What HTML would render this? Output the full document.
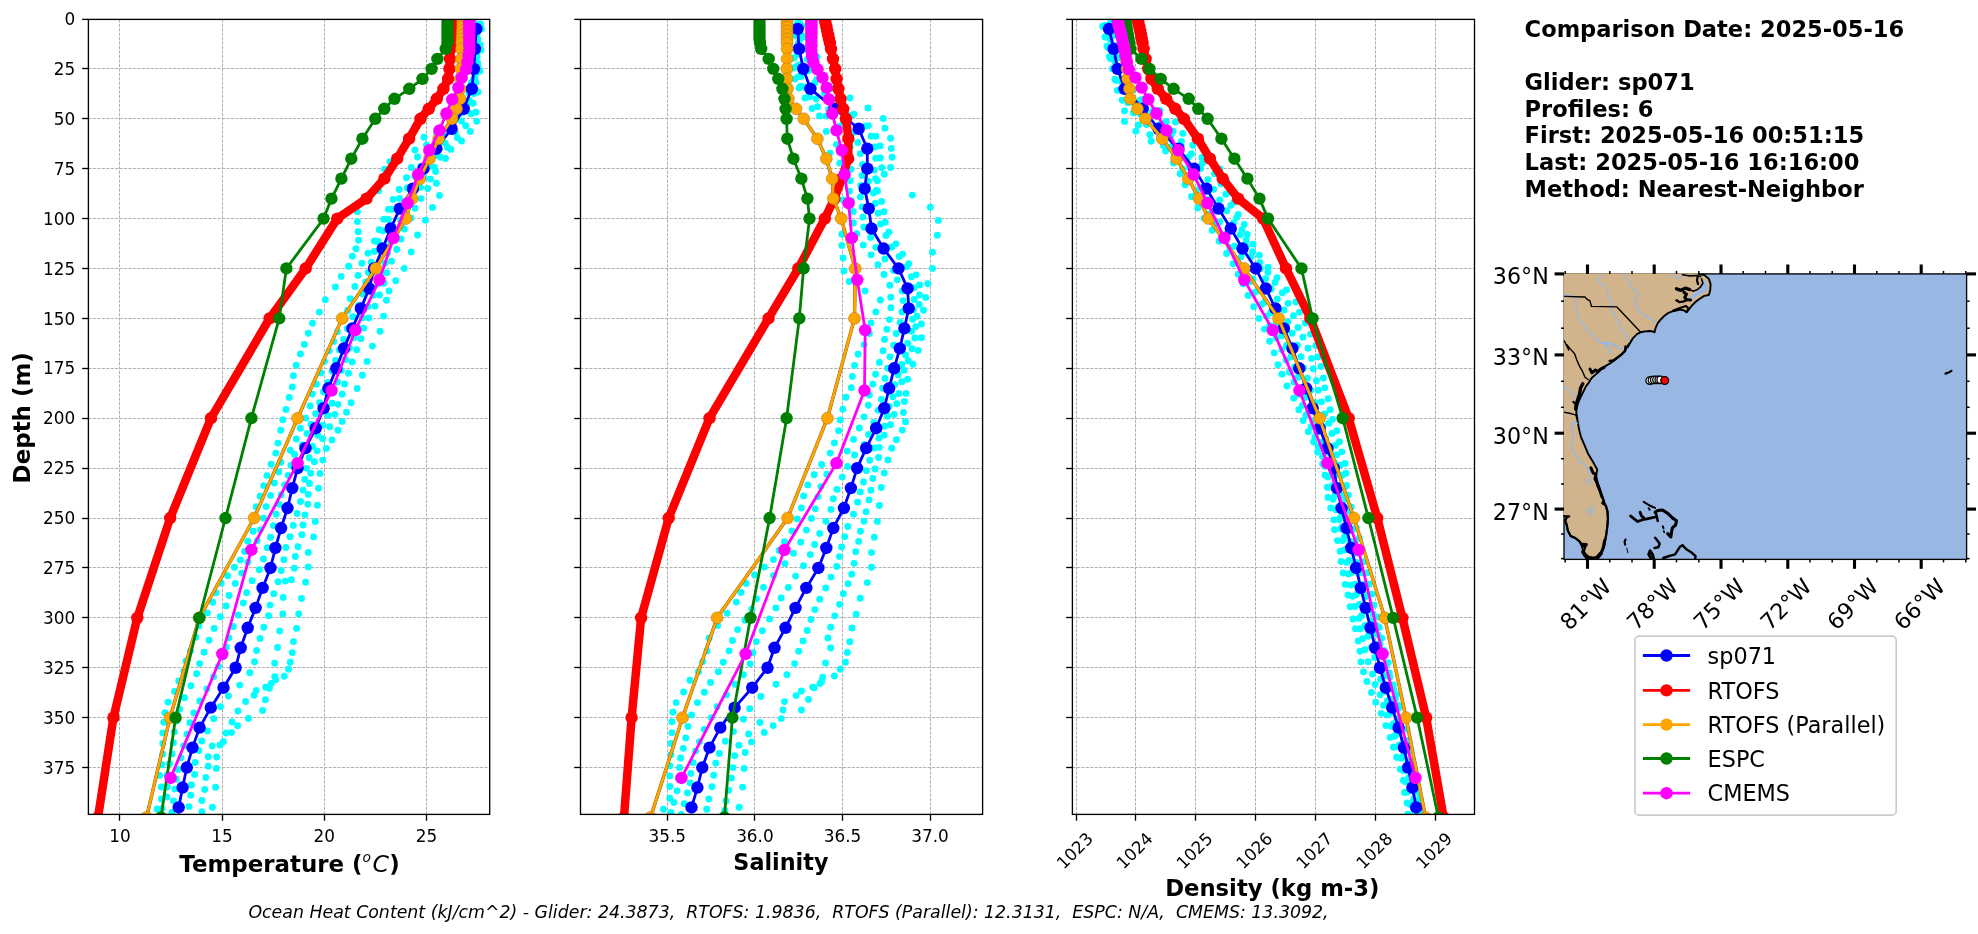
<!DOCTYPE html>
<html><head><meta charset="utf-8"><title>Glider / model comparison</title>
<style>html,body{margin:0;padding:0;background:#fff}svg{display:block;will-change:transform}text{font-family:"DejaVu Sans","Liberation Sans",sans-serif;fill:#000}</style>
</head><body>
<svg width="1978" height="934" viewBox="0 0 1978 934">
<rect x="0" y="0" width="1978" height="934" fill="#ffffff"/>
<defs>
<clipPath id="cp0"><rect x="88.4" y="19.4" width="401.3" height="795"/></clipPath>
<clipPath id="cp1"><rect x="580.5" y="19.4" width="402.1" height="795"/></clipPath>
<clipPath id="cp2"><rect x="1072.4" y="19.4" width="402.1" height="795"/></clipPath>
</defs>
<g id="panel0">
<g stroke="#b0b0b0" stroke-width="1" stroke-dasharray="3.1 1.35" fill="none">
<line x1="119.5" y1="19.4" x2="119.5" y2="814.4"/>
<line x1="222.5" y1="19.4" x2="222.5" y2="814.4"/>
<line x1="324.5" y1="19.4" x2="324.5" y2="814.4"/>
<line x1="426.5" y1="19.4" x2="426.5" y2="814.4"/>
<line x1="88.4" y1="68.5" x2="489.7" y2="68.5"/>
<line x1="88.4" y1="118.5" x2="489.7" y2="118.5"/>
<line x1="88.4" y1="168.5" x2="489.7" y2="168.5"/>
<line x1="88.4" y1="218.5" x2="489.7" y2="218.5"/>
<line x1="88.4" y1="268.5" x2="489.7" y2="268.5"/>
<line x1="88.4" y1="318.5" x2="489.7" y2="318.5"/>
<line x1="88.4" y1="368.5" x2="489.7" y2="368.5"/>
<line x1="88.4" y1="418.5" x2="489.7" y2="418.5"/>
<line x1="88.4" y1="468.5" x2="489.7" y2="468.5"/>
<line x1="88.4" y1="518.5" x2="489.7" y2="518.5"/>
<line x1="88.4" y1="567.5" x2="489.7" y2="567.5"/>
<line x1="88.4" y1="617.5" x2="489.7" y2="617.5"/>
<line x1="88.4" y1="667.5" x2="489.7" y2="667.5"/>
<line x1="88.4" y1="717.5" x2="489.7" y2="717.5"/>
<line x1="88.4" y1="767.5" x2="489.7" y2="767.5"/>
</g>
<g clip-path="url(#cp0)">
<g fill="#00ffff">
<circle cx="480.5" cy="24" r="3.45"/>
<circle cx="480" cy="45" r="3.45"/>
<circle cx="478" cy="66" r="3.45"/>
<circle cx="474" cy="86" r="3.45"/>
<circle cx="466" cy="106" r="3.45"/>
<circle cx="452" cy="122" r="3.45"/>
<circle cx="424" cy="137.3" r="3.45"/>
<circle cx="415" cy="150" r="3.45"/>
<circle cx="390" cy="161.6" r="3.45"/>
<circle cx="384.7" cy="169.2" r="3.45"/>
<circle cx="378.6" cy="190.8" r="3.45"/>
<circle cx="357.4" cy="211.8" r="3.45"/>
<circle cx="357.4" cy="221.6" r="3.45"/>
<circle cx="358.2" cy="231.8" r="3.45"/>
<circle cx="358.6" cy="240.3" r="3.45"/>
<circle cx="356" cy="248.8" r="3.45"/>
<circle cx="352.4" cy="256.3" r="3.45"/>
<circle cx="348.6" cy="266.2" r="3.45"/>
<circle cx="341.2" cy="276.4" r="3.45"/>
<circle cx="335.4" cy="287" r="3.45"/>
<circle cx="325.3" cy="299.8" r="3.45"/>
<circle cx="319.3" cy="312.1" r="3.45"/>
<circle cx="312.5" cy="323.2" r="3.45"/>
<circle cx="308.3" cy="333.3" r="3.45"/>
<circle cx="304.4" cy="344.4" r="3.45"/>
<circle cx="300.4" cy="353.9" r="3.45"/>
<circle cx="296.2" cy="365.2" r="3.45"/>
<circle cx="293.4" cy="375.8" r="3.45"/>
<circle cx="292.3" cy="386.9" r="3.45"/>
<circle cx="289.2" cy="397.4" r="3.45"/>
<circle cx="286" cy="409.5" r="3.45"/>
<circle cx="282.8" cy="419.7" r="3.45"/>
<circle cx="280.7" cy="430.3" r="3.45"/>
<circle cx="277.9" cy="443.1" r="3.45"/>
<circle cx="275.8" cy="453.1" r="3.45"/>
<circle cx="271.1" cy="464.3" r="3.45"/>
<circle cx="266.9" cy="475.6" r="3.45"/>
<circle cx="263.7" cy="485.6" r="3.45"/>
<circle cx="260.1" cy="496.2" r="3.45"/>
<circle cx="256.2" cy="506.8" r="3.45"/>
<circle cx="254.1" cy="519.5" r="3.45"/>
<circle cx="253.1" cy="531.2" r="3.45"/>
<circle cx="247.8" cy="541.2" r="3.45"/>
<circle cx="244.6" cy="551.4" r="3.45"/>
<circle cx="240.3" cy="559.9" r="3.45"/>
<circle cx="234.4" cy="567.3" r="3.45"/>
<circle cx="227.6" cy="575.8" r="3.45"/>
<circle cx="221.2" cy="583.2" r="3.45"/>
<circle cx="215.9" cy="592.7" r="3.45"/>
<circle cx="212.7" cy="602.3" r="3.45"/>
<circle cx="207.4" cy="612.9" r="3.45"/>
<circle cx="198.9" cy="625.7" r="3.45"/>
<circle cx="195.7" cy="637.3" r="3.45"/>
<circle cx="190.4" cy="651.1" r="3.45"/>
<circle cx="186" cy="661" r="3.45"/>
<circle cx="184" cy="671.3" r="3.45"/>
<circle cx="178.7" cy="680.9" r="3.45"/>
<circle cx="174.5" cy="691.5" r="3.45"/>
<circle cx="168.1" cy="702.1" r="3.45"/>
<circle cx="164.9" cy="712.7" r="3.45"/>
<circle cx="163.9" cy="722.3" r="3.45"/>
<circle cx="162.8" cy="732.9" r="3.45"/>
<circle cx="162.8" cy="743.5" r="3.45"/>
<circle cx="162.8" cy="754.1" r="3.45"/>
<circle cx="161.8" cy="764.7" r="3.45"/>
<circle cx="159.6" cy="775.4" r="3.45"/>
<circle cx="161.4" cy="787" r="3.45"/>
<circle cx="161.4" cy="799" r="3.45"/>
<circle cx="157.2" cy="809" r="3.45"/>
<circle cx="481.5" cy="29" r="3.45"/>
<circle cx="481" cy="50" r="3.45"/>
<circle cx="480" cy="71" r="3.45"/>
<circle cx="478" cy="92" r="3.45"/>
<circle cx="476" cy="112.2" r="3.45"/>
<circle cx="476.7" cy="121.3" r="3.45"/>
<circle cx="470.3" cy="131.5" r="3.45"/>
<circle cx="461.5" cy="141" r="3.45"/>
<circle cx="450.9" cy="149.4" r="3.45"/>
<circle cx="445.5" cy="158.5" r="3.45"/>
<circle cx="435.7" cy="171.5" r="3.45"/>
<circle cx="436.4" cy="183.3" r="3.45"/>
<circle cx="439.5" cy="195.5" r="3.45"/>
<circle cx="432.5" cy="207.4" r="3.45"/>
<circle cx="425.5" cy="220.2" r="3.45"/>
<circle cx="417.6" cy="235" r="3.45"/>
<circle cx="411.2" cy="252" r="3.45"/>
<circle cx="404.2" cy="268.4" r="3.45"/>
<circle cx="395.7" cy="280.7" r="3.45"/>
<circle cx="389" cy="291" r="3.45"/>
<circle cx="386.4" cy="300.2" r="3.45"/>
<circle cx="383.6" cy="316.1" r="3.45"/>
<circle cx="380" cy="331.2" r="3.45"/>
<circle cx="372.4" cy="346.1" r="3.45"/>
<circle cx="367.1" cy="361.4" r="3.45"/>
<circle cx="362.4" cy="375.2" r="3.45"/>
<circle cx="357.1" cy="388.5" r="3.45"/>
<circle cx="351.1" cy="402.7" r="3.45"/>
<circle cx="346.5" cy="412.3" r="3.45"/>
<circle cx="342.2" cy="421.4" r="3.45"/>
<circle cx="338" cy="430.3" r="3.45"/>
<circle cx="332" cy="439.9" r="3.45"/>
<circle cx="326.3" cy="448.4" r="3.45"/>
<circle cx="322.7" cy="460.1" r="3.45"/>
<circle cx="319.9" cy="473.4" r="3.45"/>
<circle cx="318.5" cy="488.3" r="3.45"/>
<circle cx="317.4" cy="505.3" r="3.45"/>
<circle cx="315.3" cy="521.6" r="3.45"/>
<circle cx="313.6" cy="536.9" r="3.45"/>
<circle cx="308.3" cy="552.4" r="3.45"/>
<circle cx="308.3" cy="566.9" r="3.45"/>
<circle cx="305.6" cy="582.3" r="3.45"/>
<circle cx="301.5" cy="598.5" r="3.45"/>
<circle cx="298.7" cy="614" r="3.45"/>
<circle cx="296.6" cy="628.4" r="3.45"/>
<circle cx="293.4" cy="641.6" r="3.45"/>
<circle cx="292.3" cy="652.6" r="3.45"/>
<circle cx="290.2" cy="662.2" r="3.45"/>
<circle cx="288.5" cy="669.2" r="3.45"/>
<circle cx="284.3" cy="676.2" r="3.45"/>
<circle cx="275.8" cy="679.8" r="3.45"/>
<circle cx="271.1" cy="683.4" r="3.45"/>
<circle cx="265.8" cy="687.2" r="3.45"/>
<circle cx="256.2" cy="690.4" r="3.45"/>
<circle cx="254.1" cy="695.3" r="3.45"/>
<circle cx="245.6" cy="701.5" r="3.45"/>
<circle cx="238" cy="711" r="3.45"/>
<circle cx="232" cy="722" r="3.45"/>
<circle cx="226" cy="733" r="3.45"/>
<circle cx="220" cy="745" r="3.45"/>
<circle cx="216.6" cy="757" r="3.45"/>
<circle cx="216.3" cy="768.4" r="3.45"/>
<circle cx="215.5" cy="787.3" r="3.45"/>
<circle cx="212.4" cy="807.2" r="3.45"/>
<circle cx="285.3" cy="581.1" r="3.45"/>
<circle cx="283.2" cy="597.4" r="3.45"/>
<circle cx="282.8" cy="614" r="3.45"/>
<circle cx="279.6" cy="631" r="3.45"/>
<circle cx="277.5" cy="647.5" r="3.45"/>
<circle cx="274.7" cy="663.2" r="3.45"/>
<circle cx="274.7" cy="676.6" r="3.45"/>
<circle cx="269.4" cy="688.3" r="3.45"/>
<circle cx="265.4" cy="699.8" r="3.45"/>
<circle cx="262.6" cy="710.4" r="3.45"/>
<circle cx="248.5" cy="718.4" r="3.45"/>
<circle cx="237.6" cy="725.8" r="3.45"/>
<circle cx="231.5" cy="732.6" r="3.45"/>
<circle cx="223.4" cy="741.8" r="3.45"/>
<circle cx="475.28" cy="23.81" r="3.45"/>
<circle cx="475.36" cy="34.56" r="3.45"/>
<circle cx="474.19" cy="46.25" r="3.45"/>
<circle cx="472.13" cy="57.75" r="3.45"/>
<circle cx="472.37" cy="69.32" r="3.45"/>
<circle cx="473.4" cy="80" r="3.45"/>
<circle cx="470.69" cy="91.78" r="3.45"/>
<circle cx="467.34" cy="102.76" r="3.45"/>
<circle cx="462.65" cy="112.38" r="3.45"/>
<circle cx="452.08" cy="123.13" r="3.45"/>
<circle cx="436.46" cy="132.65" r="3.45"/>
<circle cx="426.46" cy="144.83" r="3.45"/>
<circle cx="417.46" cy="157.05" r="3.45"/>
<circle cx="411.3" cy="167.44" r="3.45"/>
<circle cx="406.44" cy="177.74" r="3.45"/>
<circle cx="399.24" cy="189.43" r="3.45"/>
<circle cx="393.08" cy="199.42" r="3.45"/>
<circle cx="388.36" cy="209.34" r="3.45"/>
<circle cx="383.71" cy="219.28" r="3.45"/>
<circle cx="379.3" cy="229.71" r="3.45"/>
<circle cx="374.46" cy="240.96" r="3.45"/>
<circle cx="368" cy="253.23" r="3.45"/>
<circle cx="361.93" cy="263.25" r="3.45"/>
<circle cx="358" cy="275.49" r="3.45"/>
<circle cx="354.9" cy="286.54" r="3.45"/>
<circle cx="350.16" cy="298.62" r="3.45"/>
<circle cx="347.66" cy="310.45" r="3.45"/>
<circle cx="343.89" cy="320.31" r="3.45"/>
<circle cx="337.35" cy="331.64" r="3.45"/>
<circle cx="333.68" cy="341.39" r="3.45"/>
<circle cx="329.31" cy="350.79" r="3.45"/>
<circle cx="324.46" cy="361.36" r="3.45"/>
<circle cx="320.95" cy="373.06" r="3.45"/>
<circle cx="316.43" cy="384.14" r="3.45"/>
<circle cx="312.37" cy="394.09" r="3.45"/>
<circle cx="310.1" cy="406" r="3.45"/>
<circle cx="305.67" cy="418.12" r="3.45"/>
<circle cx="300.37" cy="428.21" r="3.45"/>
<circle cx="296.3" cy="438.93" r="3.45"/>
<circle cx="290.26" cy="450.23" r="3.45"/>
<circle cx="280.78" cy="462.31" r="3.45"/>
<circle cx="278.84" cy="472.07" r="3.45"/>
<circle cx="274.41" cy="483.11" r="3.45"/>
<circle cx="270.62" cy="495.4" r="3.45"/>
<circle cx="266.04" cy="506.6" r="3.45"/>
<circle cx="263.57" cy="518.13" r="3.45"/>
<circle cx="260.32" cy="529.84" r="3.45"/>
<circle cx="257.23" cy="540.74" r="3.45"/>
<circle cx="253.81" cy="550.99" r="3.45"/>
<circle cx="247.92" cy="562.14" r="3.45"/>
<circle cx="241.7" cy="573.1" r="3.45"/>
<circle cx="235.32" cy="583.51" r="3.45"/>
<circle cx="228.99" cy="595.45" r="3.45"/>
<circle cx="226.17" cy="605.92" r="3.45"/>
<circle cx="220.24" cy="616.75" r="3.45"/>
<circle cx="214.19" cy="628.42" r="3.45"/>
<circle cx="209.08" cy="640.24" r="3.45"/>
<circle cx="204.05" cy="652.29" r="3.45"/>
<circle cx="199.59" cy="663.62" r="3.45"/>
<circle cx="196.59" cy="673.76" r="3.45"/>
<circle cx="190.86" cy="685.68" r="3.45"/>
<circle cx="184.39" cy="697.78" r="3.45"/>
<circle cx="179.52" cy="709.31" r="3.45"/>
<circle cx="176.98" cy="720.98" r="3.45"/>
<circle cx="174.31" cy="731.91" r="3.45"/>
<circle cx="173.43" cy="742.77" r="3.45"/>
<circle cx="172.16" cy="753.89" r="3.45"/>
<circle cx="169.53" cy="763.72" r="3.45"/>
<circle cx="167.01" cy="775.12" r="3.45"/>
<circle cx="167.38" cy="787.09" r="3.45"/>
<circle cx="166.67" cy="796.96" r="3.45"/>
<circle cx="162.04" cy="808.6" r="3.45"/>
<circle cx="475.52" cy="26.42" r="3.45"/>
<circle cx="475.73" cy="36.39" r="3.45"/>
<circle cx="474.35" cy="48.66" r="3.45"/>
<circle cx="474.07" cy="60.81" r="3.45"/>
<circle cx="473.54" cy="71.59" r="3.45"/>
<circle cx="471.19" cy="82.96" r="3.45"/>
<circle cx="468.91" cy="92.99" r="3.45"/>
<circle cx="465.27" cy="103.03" r="3.45"/>
<circle cx="460" cy="113.28" r="3.45"/>
<circle cx="451.91" cy="124.74" r="3.45"/>
<circle cx="442.9" cy="134.75" r="3.45"/>
<circle cx="433.59" cy="147.05" r="3.45"/>
<circle cx="427.74" cy="156.64" r="3.45"/>
<circle cx="420.59" cy="166.6" r="3.45"/>
<circle cx="414.87" cy="176.25" r="3.45"/>
<circle cx="407.22" cy="187.94" r="3.45"/>
<circle cx="399.53" cy="198.42" r="3.45"/>
<circle cx="391.86" cy="209.21" r="3.45"/>
<circle cx="388.3" cy="219.57" r="3.45"/>
<circle cx="383.19" cy="230.86" r="3.45"/>
<circle cx="378.1" cy="241.45" r="3.45"/>
<circle cx="374.26" cy="251.46" r="3.45"/>
<circle cx="371.31" cy="262.13" r="3.45"/>
<circle cx="368.31" cy="272.42" r="3.45"/>
<circle cx="365.74" cy="282.14" r="3.45"/>
<circle cx="362.69" cy="293.99" r="3.45"/>
<circle cx="358.52" cy="305.41" r="3.45"/>
<circle cx="352.68" cy="316.78" r="3.45"/>
<circle cx="347.36" cy="328.81" r="3.45"/>
<circle cx="343.7" cy="339.37" r="3.45"/>
<circle cx="339.35" cy="349.89" r="3.45"/>
<circle cx="335.54" cy="360.54" r="3.45"/>
<circle cx="332.25" cy="371.13" r="3.45"/>
<circle cx="327.66" cy="382.52" r="3.45"/>
<circle cx="323.4" cy="391.92" r="3.45"/>
<circle cx="319.57" cy="402.69" r="3.45"/>
<circle cx="315.71" cy="413.68" r="3.45"/>
<circle cx="310.89" cy="424.09" r="3.45"/>
<circle cx="307.12" cy="433.54" r="3.45"/>
<circle cx="302.39" cy="445.03" r="3.45"/>
<circle cx="294.52" cy="454.44" r="3.45"/>
<circle cx="290.92" cy="465.52" r="3.45"/>
<circle cx="288.07" cy="475.36" r="3.45"/>
<circle cx="284.64" cy="484.85" r="3.45"/>
<circle cx="281.1" cy="494.77" r="3.45"/>
<circle cx="279.15" cy="504.35" r="3.45"/>
<circle cx="276.09" cy="514.18" r="3.45"/>
<circle cx="273.32" cy="525.62" r="3.45"/>
<circle cx="270.52" cy="537.18" r="3.45"/>
<circle cx="267.25" cy="547.65" r="3.45"/>
<circle cx="263.4" cy="558.98" r="3.45"/>
<circle cx="259.29" cy="569.79" r="3.45"/>
<circle cx="252.18" cy="580.67" r="3.45"/>
<circle cx="246.68" cy="592.67" r="3.45"/>
<circle cx="243.31" cy="602.99" r="3.45"/>
<circle cx="238.21" cy="614.97" r="3.45"/>
<circle cx="233.32" cy="626.43" r="3.45"/>
<circle cx="229.01" cy="637.85" r="3.45"/>
<circle cx="226.28" cy="647.26" r="3.45"/>
<circle cx="223.05" cy="656.89" r="3.45"/>
<circle cx="218.62" cy="666.37" r="3.45"/>
<circle cx="213.63" cy="676.79" r="3.45"/>
<circle cx="206.88" cy="689" r="3.45"/>
<circle cx="199.77" cy="701.01" r="3.45"/>
<circle cx="193.77" cy="712.9" r="3.45"/>
<circle cx="189.84" cy="722.64" r="3.45"/>
<circle cx="186.98" cy="734.13" r="3.45"/>
<circle cx="183.69" cy="745.84" r="3.45"/>
<circle cx="180.9" cy="757.64" r="3.45"/>
<circle cx="177.97" cy="769.4" r="3.45"/>
<circle cx="176.18" cy="779.2" r="3.45"/>
<circle cx="174.89" cy="789.12" r="3.45"/>
<circle cx="173.53" cy="800.87" r="3.45"/>
<circle cx="171.85" cy="812.47" r="3.45"/>
<circle cx="476.03" cy="23.83" r="3.45"/>
<circle cx="476.99" cy="35.06" r="3.45"/>
<circle cx="477.8" cy="44.95" r="3.45"/>
<circle cx="477.03" cy="56.46" r="3.45"/>
<circle cx="477.42" cy="67.67" r="3.45"/>
<circle cx="474.89" cy="78.2" r="3.45"/>
<circle cx="473.56" cy="89.43" r="3.45"/>
<circle cx="469.08" cy="100.51" r="3.45"/>
<circle cx="466.48" cy="110.02" r="3.45"/>
<circle cx="461.44" cy="120.99" r="3.45"/>
<circle cx="455.14" cy="132.23" r="3.45"/>
<circle cx="445.26" cy="143.17" r="3.45"/>
<circle cx="436.91" cy="155.18" r="3.45"/>
<circle cx="428.46" cy="166.77" r="3.45"/>
<circle cx="424.03" cy="177.28" r="3.45"/>
<circle cx="420.57" cy="187.34" r="3.45"/>
<circle cx="413.85" cy="197.11" r="3.45"/>
<circle cx="404.8" cy="208.92" r="3.45"/>
<circle cx="400.58" cy="220.37" r="3.45"/>
<circle cx="395.95" cy="231.57" r="3.45"/>
<circle cx="390.75" cy="242.28" r="3.45"/>
<circle cx="387.38" cy="253.16" r="3.45"/>
<circle cx="385.06" cy="263.21" r="3.45"/>
<circle cx="380.34" cy="274.18" r="3.45"/>
<circle cx="377.8" cy="284" r="3.45"/>
<circle cx="373.53" cy="295.24" r="3.45"/>
<circle cx="368.05" cy="306.51" r="3.45"/>
<circle cx="362.38" cy="317.9" r="3.45"/>
<circle cx="357.66" cy="328.02" r="3.45"/>
<circle cx="353.94" cy="337.68" r="3.45"/>
<circle cx="349.51" cy="348.06" r="3.45"/>
<circle cx="345.57" cy="359.5" r="3.45"/>
<circle cx="341.22" cy="370.41" r="3.45"/>
<circle cx="337.6" cy="382.03" r="3.45"/>
<circle cx="333.71" cy="392.7" r="3.45"/>
<circle cx="332.11" cy="403.28" r="3.45"/>
<circle cx="328.12" cy="415.38" r="3.45"/>
<circle cx="322.86" cy="425.26" r="3.45"/>
<circle cx="317.72" cy="435.27" r="3.45"/>
<circle cx="312.52" cy="446.41" r="3.45"/>
<circle cx="309.23" cy="457.69" r="3.45"/>
<circle cx="306.59" cy="468.36" r="3.45"/>
<circle cx="304.87" cy="479.42" r="3.45"/>
<circle cx="303.02" cy="490.12" r="3.45"/>
<circle cx="300.58" cy="501.5" r="3.45"/>
<circle cx="297.02" cy="513.55" r="3.45"/>
<circle cx="293.23" cy="525.4" r="3.45"/>
<circle cx="290.01" cy="536.7" r="3.45"/>
<circle cx="285.85" cy="547.49" r="3.45"/>
<circle cx="283.88" cy="559.71" r="3.45"/>
<circle cx="281.27" cy="570.43" r="3.45"/>
<circle cx="278.05" cy="581.69" r="3.45"/>
<circle cx="273.81" cy="593.67" r="3.45"/>
<circle cx="270.1" cy="605.1" r="3.45"/>
<circle cx="268.54" cy="615.65" r="3.45"/>
<circle cx="263.78" cy="627.26" r="3.45"/>
<circle cx="260.11" cy="638.44" r="3.45"/>
<circle cx="256.56" cy="650.56" r="3.45"/>
<circle cx="254.5" cy="661.81" r="3.45"/>
<circle cx="249.8" cy="672.79" r="3.45"/>
<circle cx="239.72" cy="685.09" r="3.45"/>
<circle cx="228.42" cy="696.05" r="3.45"/>
<circle cx="220.46" cy="706.63" r="3.45"/>
<circle cx="213.74" cy="718.82" r="3.45"/>
<circle cx="207.43" cy="731.03" r="3.45"/>
<circle cx="201.8" cy="740.93" r="3.45"/>
<circle cx="198.65" cy="750.53" r="3.45"/>
<circle cx="195.18" cy="762.48" r="3.45"/>
<circle cx="194.63" cy="774.5" r="3.45"/>
<circle cx="191.44" cy="785.04" r="3.45"/>
<circle cx="190.77" cy="795.18" r="3.45"/>
<circle cx="189" cy="806.62" r="3.45"/>
<circle cx="478.3" cy="28.81" r="3.45"/>
<circle cx="477.92" cy="39.56" r="3.45"/>
<circle cx="477.62" cy="51.09" r="3.45"/>
<circle cx="477.55" cy="62.67" r="3.45"/>
<circle cx="476.71" cy="72.7" r="3.45"/>
<circle cx="475.97" cy="82.32" r="3.45"/>
<circle cx="473.82" cy="93.5" r="3.45"/>
<circle cx="473.08" cy="103.25" r="3.45"/>
<circle cx="471.08" cy="113.78" r="3.45"/>
<circle cx="465.74" cy="125.82" r="3.45"/>
<circle cx="457.47" cy="137.82" r="3.45"/>
<circle cx="447.55" cy="147.56" r="3.45"/>
<circle cx="440.47" cy="157.19" r="3.45"/>
<circle cx="434.2" cy="167.23" r="3.45"/>
<circle cx="430.47" cy="179.1" r="3.45"/>
<circle cx="427.74" cy="188.55" r="3.45"/>
<circle cx="421.07" cy="198.61" r="3.45"/>
<circle cx="415.02" cy="208.31" r="3.45"/>
<circle cx="411.04" cy="218.08" r="3.45"/>
<circle cx="404.39" cy="229.03" r="3.45"/>
<circle cx="401.09" cy="238.96" r="3.45"/>
<circle cx="396.73" cy="249.57" r="3.45"/>
<circle cx="391.62" cy="261.15" r="3.45"/>
<circle cx="386.84" cy="272.7" r="3.45"/>
<circle cx="384.06" cy="283.32" r="3.45"/>
<circle cx="379.39" cy="295.06" r="3.45"/>
<circle cx="375.05" cy="306.15" r="3.45"/>
<circle cx="368.76" cy="318.01" r="3.45"/>
<circle cx="363.8" cy="328.14" r="3.45"/>
<circle cx="360.93" cy="338.63" r="3.45"/>
<circle cx="356.58" cy="349.75" r="3.45"/>
<circle cx="352.06" cy="361.96" r="3.45"/>
<circle cx="348.5" cy="373.2" r="3.45"/>
<circle cx="344.65" cy="384" r="3.45"/>
<circle cx="342.15" cy="394.14" r="3.45"/>
<circle cx="338.1" cy="404.36" r="3.45"/>
<circle cx="334.84" cy="414.39" r="3.45"/>
<circle cx="329.65" cy="426.73" r="3.45"/>
<circle cx="322.65" cy="438.76" r="3.45"/>
<circle cx="317.13" cy="450.83" r="3.45"/>
<circle cx="314.39" cy="461.79" r="3.45"/>
<circle cx="310.77" cy="473.3" r="3.45"/>
<circle cx="309.47" cy="483.57" r="3.45"/>
<circle cx="308.27" cy="494.39" r="3.45"/>
<circle cx="307.88" cy="504.21" r="3.45"/>
<circle cx="305.01" cy="514.85" r="3.45"/>
<circle cx="303.08" cy="524.99" r="3.45"/>
<circle cx="301.88" cy="534.67" r="3.45"/>
<circle cx="297.95" cy="546.81" r="3.45"/>
<circle cx="295.34" cy="556.48" r="3.45"/>
<circle cx="294.36" cy="568.3" r="3.45"/>
<circle cx="291.34" cy="579.77" r="3.45"/>
<circle cx="212.29" cy="746" r="3.45"/>
<circle cx="208.16" cy="756.71" r="3.45"/>
<circle cx="208.21" cy="766.23" r="3.45"/>
<circle cx="205.87" cy="777.55" r="3.45"/>
<circle cx="204.69" cy="789.55" r="3.45"/>
<circle cx="201.82" cy="800.56" r="3.45"/>
<circle cx="201.98" cy="811.63" r="3.45"/>
</g>
<polyline points="476.3,28.93 474.9,48.89 473.9,68.86 471.8,88.82 463.7,108.78 451.6,128.75 436.4,148.71 423.5,168.67 412.9,188.64 399.8,208.6 390.7,228.56 382.6,248.52 374.1,268.49 369.2,288.45 360.9,308.41 352.4,328.38 344,348.34 336.3,368.3 328.4,388.27 323.6,408.23 315.7,428.19 305.5,448.15 297.6,468.12 292.3,488.08 287.5,508.04 281.1,528.01 275.4,547.97 270.5,567.93 262.6,587.9 255.6,607.86 247.7,627.82 240.7,647.78 235.6,667.75 223.5,687.71 210.8,707.67 199.6,727.64 192.5,747.6 186.8,767.56 182.6,787.53 178.7,807.49" fill="none" stroke="#0000ff" stroke-width="2.8" stroke-linejoin="round" stroke-linecap="square"/>
<g fill="#0000ff">
<circle cx="476.3" cy="28.93" r="6.2"/>
<circle cx="474.9" cy="48.89" r="6.2"/>
<circle cx="473.9" cy="68.86" r="6.2"/>
<circle cx="471.8" cy="88.82" r="6.2"/>
<circle cx="463.7" cy="108.78" r="6.2"/>
<circle cx="451.6" cy="128.75" r="6.2"/>
<circle cx="436.4" cy="148.71" r="6.2"/>
<circle cx="423.5" cy="168.67" r="6.2"/>
<circle cx="412.9" cy="188.64" r="6.2"/>
<circle cx="399.8" cy="208.6" r="6.2"/>
<circle cx="390.7" cy="228.56" r="6.2"/>
<circle cx="382.6" cy="248.52" r="6.2"/>
<circle cx="374.1" cy="268.49" r="6.2"/>
<circle cx="369.2" cy="288.45" r="6.2"/>
<circle cx="360.9" cy="308.41" r="6.2"/>
<circle cx="352.4" cy="328.38" r="6.2"/>
<circle cx="344" cy="348.34" r="6.2"/>
<circle cx="336.3" cy="368.3" r="6.2"/>
<circle cx="328.4" cy="388.27" r="6.2"/>
<circle cx="323.6" cy="408.23" r="6.2"/>
<circle cx="315.7" cy="428.19" r="6.2"/>
<circle cx="305.5" cy="448.15" r="6.2"/>
<circle cx="297.6" cy="468.12" r="6.2"/>
<circle cx="292.3" cy="488.08" r="6.2"/>
<circle cx="287.5" cy="508.04" r="6.2"/>
<circle cx="281.1" cy="528.01" r="6.2"/>
<circle cx="275.4" cy="547.97" r="6.2"/>
<circle cx="270.5" cy="567.93" r="6.2"/>
<circle cx="262.6" cy="587.9" r="6.2"/>
<circle cx="255.6" cy="607.86" r="6.2"/>
<circle cx="247.7" cy="627.82" r="6.2"/>
<circle cx="240.7" cy="647.78" r="6.2"/>
<circle cx="235.6" cy="667.75" r="6.2"/>
<circle cx="223.5" cy="687.71" r="6.2"/>
<circle cx="210.8" cy="707.67" r="6.2"/>
<circle cx="199.6" cy="727.64" r="6.2"/>
<circle cx="192.5" cy="747.6" r="6.2"/>
<circle cx="186.8" cy="767.56" r="6.2"/>
<circle cx="182.6" cy="787.53" r="6.2"/>
<circle cx="178.7" cy="807.49" r="6.2"/>
</g>
<polyline points="451.8,18.95 451.7,22.94 451.6,26.94 451.4,30.93 451.2,34.92 451,38.91 450.8,42.91 450.5,48.89 450,58.88 449.4,68.86 448.1,78.84 443.4,88.82 436.8,98.8 428.8,108.78 420.5,118.77 409.1,138.73 397.2,158.69 384.4,178.65 366.5,198.62 337.3,218.58 305.7,268.49 269.6,318.39 211,418.21 170.2,518.02 137.3,617.84 113.4,717.66 98,817.47" fill="none" stroke="#ff0000" stroke-width="8.5" stroke-linejoin="round" stroke-linecap="square"/>
<g fill="#ff0000">
<circle cx="451.8" cy="18.95" r="6.2"/>
<circle cx="451.7" cy="22.94" r="6.2"/>
<circle cx="451.6" cy="26.94" r="6.2"/>
<circle cx="451.4" cy="30.93" r="6.2"/>
<circle cx="451.2" cy="34.92" r="6.2"/>
<circle cx="451" cy="38.91" r="6.2"/>
<circle cx="450.8" cy="42.91" r="6.2"/>
<circle cx="450.5" cy="48.89" r="6.2"/>
<circle cx="450" cy="58.88" r="6.2"/>
<circle cx="449.4" cy="68.86" r="6.2"/>
<circle cx="448.1" cy="78.84" r="6.2"/>
<circle cx="443.4" cy="88.82" r="6.2"/>
<circle cx="436.8" cy="98.8" r="6.2"/>
<circle cx="428.8" cy="108.78" r="6.2"/>
<circle cx="420.5" cy="118.77" r="6.2"/>
<circle cx="409.1" cy="138.73" r="6.2"/>
<circle cx="397.2" cy="158.69" r="6.2"/>
<circle cx="384.4" cy="178.65" r="6.2"/>
<circle cx="366.5" cy="198.62" r="6.2"/>
<circle cx="337.3" cy="218.58" r="6.2"/>
<circle cx="305.7" cy="268.49" r="6.2"/>
<circle cx="269.6" cy="318.39" r="6.2"/>
<circle cx="211" cy="418.21" r="6.2"/>
<circle cx="170.2" cy="518.02" r="6.2"/>
<circle cx="137.3" cy="617.84" r="6.2"/>
<circle cx="113.4" cy="717.66" r="6.2"/>
<circle cx="98" cy="817.47" r="6.2"/>
</g>
<polyline points="462.8,18.95 462.7,22.94 462.6,26.94 462.4,30.93 462.2,34.92 462,38.91 461.8,42.91 461.5,48.89 461.2,58.88 460.9,68.86 460.4,78.84 460,88.82 460,98.8 456.6,108.78 452,118.77 438.7,138.73 429.6,158.69 419.7,178.65 412.1,198.62 406,218.58 375.8,268.49 342.2,318.39 297.6,418.21 254.1,518.02 199.3,617.84 170,717.66 146.5,817.47" fill="none" stroke="#80561a" stroke-width="3.45" stroke-linejoin="round" stroke-linecap="square"/>
<polyline points="462.8,18.95 462.7,22.94 462.6,26.94 462.4,30.93 462.2,34.92 462,38.91 461.8,42.91 461.5,48.89 461.2,58.88 460.9,68.86 460.4,78.84 460,88.82 460,98.8 456.6,108.78 452,118.77 438.7,138.73 429.6,158.69 419.7,178.65 412.1,198.62 406,218.58 375.8,268.49 342.2,318.39 297.6,418.21 254.1,518.02 199.3,617.84 170,717.66 146.5,817.47" fill="none" stroke="#ffa500" stroke-width="2.7" stroke-linejoin="round" stroke-linecap="square"/>
<g fill="#ffa500" stroke="#a87420" stroke-width="0.5">
<circle cx="462.8" cy="18.95" r="6"/>
<circle cx="462.7" cy="22.94" r="6"/>
<circle cx="462.6" cy="26.94" r="6"/>
<circle cx="462.4" cy="30.93" r="6"/>
<circle cx="462.2" cy="34.92" r="6"/>
<circle cx="462" cy="38.91" r="6"/>
<circle cx="461.8" cy="42.91" r="6"/>
<circle cx="461.5" cy="48.89" r="6"/>
<circle cx="461.2" cy="58.88" r="6"/>
<circle cx="460.9" cy="68.86" r="6"/>
<circle cx="460.4" cy="78.84" r="6"/>
<circle cx="460" cy="88.82" r="6"/>
<circle cx="460" cy="98.8" r="6"/>
<circle cx="456.6" cy="108.78" r="6"/>
<circle cx="452" cy="118.77" r="6"/>
<circle cx="438.7" cy="138.73" r="6"/>
<circle cx="429.6" cy="158.69" r="6"/>
<circle cx="419.7" cy="178.65" r="6"/>
<circle cx="412.1" cy="198.62" r="6"/>
<circle cx="406" cy="218.58" r="6"/>
<circle cx="375.8" cy="268.49" r="6"/>
<circle cx="342.2" cy="318.39" r="6"/>
<circle cx="297.6" cy="418.21" r="6"/>
<circle cx="254.1" cy="518.02" r="6"/>
<circle cx="199.3" cy="617.84" r="6"/>
<circle cx="170" cy="717.66" r="6"/>
<circle cx="146.5" cy="817.47" r="6"/>
</g>
<polyline points="447.5,18.95 447.5,22.94 447.5,26.94 447.5,30.93 447.5,34.92 447.5,38.91 447.5,42.91 445.7,48.89 437.4,58.88 431.6,68.86 422.5,78.84 409.3,88.82 394.5,98.8 384.3,108.78 375.3,118.77 362.4,138.73 351.3,158.69 341.4,178.65 331.5,198.62 323.6,218.58 286.4,268.49 279.2,318.39 251.4,418.21 225.5,518.02 199.3,617.84 175.6,717.66 161,817.47" fill="none" stroke="#008000" stroke-width="2.8" stroke-linejoin="round" stroke-linecap="square"/>
<g fill="#008000">
<circle cx="447.5" cy="18.95" r="6.2"/>
<circle cx="447.5" cy="22.94" r="6.2"/>
<circle cx="447.5" cy="26.94" r="6.2"/>
<circle cx="447.5" cy="30.93" r="6.2"/>
<circle cx="447.5" cy="34.92" r="6.2"/>
<circle cx="447.5" cy="38.91" r="6.2"/>
<circle cx="447.5" cy="42.91" r="6.2"/>
<circle cx="445.7" cy="48.89" r="6.2"/>
<circle cx="437.4" cy="58.88" r="6.2"/>
<circle cx="431.6" cy="68.86" r="6.2"/>
<circle cx="422.5" cy="78.84" r="6.2"/>
<circle cx="409.3" cy="88.82" r="6.2"/>
<circle cx="394.5" cy="98.8" r="6.2"/>
<circle cx="384.3" cy="108.78" r="6.2"/>
<circle cx="375.3" cy="118.77" r="6.2"/>
<circle cx="362.4" cy="138.73" r="6.2"/>
<circle cx="351.3" cy="158.69" r="6.2"/>
<circle cx="341.4" cy="178.65" r="6.2"/>
<circle cx="331.5" cy="198.62" r="6.2"/>
<circle cx="323.6" cy="218.58" r="6.2"/>
<circle cx="286.4" cy="268.49" r="6.2"/>
<circle cx="279.2" cy="318.39" r="6.2"/>
<circle cx="251.4" cy="418.21" r="6.2"/>
<circle cx="225.5" cy="518.02" r="6.2"/>
<circle cx="199.3" cy="617.84" r="6.2"/>
<circle cx="175.6" cy="717.66" r="6.2"/>
<circle cx="161" cy="817.47" r="6.2"/>
</g>
<polyline points="469.3,19.93 469.3,22.02 469.3,24.24 469.3,26.58 469.3,29.09 469.3,31.81 469.3,34.78 469.3,38.05 469.3,41.71 469.3,45.84 469.3,50.51 468.5,55.88 467.5,62.07 466.1,69.26 461.7,77.64 458.3,87.62 452.2,99.4 446.4,113.57 439.5,130.34 429.3,150.31 418.2,174.46 407.6,203.21 393.5,237.94 379.4,279.87 355.4,330.17 331.6,390.46 297.6,463.13 251.4,549.97 222.3,653.97 170.6,777.94" fill="none" stroke="#ff00ff" stroke-width="2.8" stroke-linejoin="round" stroke-linecap="square"/>
<g fill="#ff00ff">
<circle cx="469.3" cy="19.93" r="6.2"/>
<circle cx="469.3" cy="22.02" r="6.2"/>
<circle cx="469.3" cy="24.24" r="6.2"/>
<circle cx="469.3" cy="26.58" r="6.2"/>
<circle cx="469.3" cy="29.09" r="6.2"/>
<circle cx="469.3" cy="31.81" r="6.2"/>
<circle cx="469.3" cy="34.78" r="6.2"/>
<circle cx="469.3" cy="38.05" r="6.2"/>
<circle cx="469.3" cy="41.71" r="6.2"/>
<circle cx="469.3" cy="45.84" r="6.2"/>
<circle cx="469.3" cy="50.51" r="6.2"/>
<circle cx="468.5" cy="55.88" r="6.2"/>
<circle cx="467.5" cy="62.07" r="6.2"/>
<circle cx="466.1" cy="69.26" r="6.2"/>
<circle cx="461.7" cy="77.64" r="6.2"/>
<circle cx="458.3" cy="87.62" r="6.2"/>
<circle cx="452.2" cy="99.4" r="6.2"/>
<circle cx="446.4" cy="113.57" r="6.2"/>
<circle cx="439.5" cy="130.34" r="6.2"/>
<circle cx="429.3" cy="150.31" r="6.2"/>
<circle cx="418.2" cy="174.46" r="6.2"/>
<circle cx="407.6" cy="203.21" r="6.2"/>
<circle cx="393.5" cy="237.94" r="6.2"/>
<circle cx="379.4" cy="279.87" r="6.2"/>
<circle cx="355.4" cy="330.17" r="6.2"/>
<circle cx="331.6" cy="390.46" r="6.2"/>
<circle cx="297.6" cy="463.13" r="6.2"/>
<circle cx="251.4" cy="549.97" r="6.2"/>
<circle cx="222.3" cy="653.97" r="6.2"/>
<circle cx="170.6" cy="777.94" r="6.2"/>
</g>
</g>
<rect x="88.4" y="19.4" width="401.3" height="795" fill="none" stroke="#000" stroke-width="1.33"/>
<g stroke="#000" stroke-width="1.33">
<line x1="119.5" y1="814.4" x2="119.5" y2="820.7"/>
<line x1="222.5" y1="814.4" x2="222.5" y2="820.7"/>
<line x1="324.5" y1="814.4" x2="324.5" y2="820.7"/>
<line x1="426.5" y1="814.4" x2="426.5" y2="820.7"/>
<line x1="82.1" y1="19.4" x2="88.4" y2="19.4"/>
<line x1="82.1" y1="68.5" x2="88.4" y2="68.5"/>
<line x1="82.1" y1="118.5" x2="88.4" y2="118.5"/>
<line x1="82.1" y1="168.5" x2="88.4" y2="168.5"/>
<line x1="82.1" y1="218.5" x2="88.4" y2="218.5"/>
<line x1="82.1" y1="268.5" x2="88.4" y2="268.5"/>
<line x1="82.1" y1="318.5" x2="88.4" y2="318.5"/>
<line x1="82.1" y1="368.5" x2="88.4" y2="368.5"/>
<line x1="82.1" y1="418.5" x2="88.4" y2="418.5"/>
<line x1="82.1" y1="468.5" x2="88.4" y2="468.5"/>
<line x1="82.1" y1="518.5" x2="88.4" y2="518.5"/>
<line x1="82.1" y1="567.5" x2="88.4" y2="567.5"/>
<line x1="82.1" y1="617.5" x2="88.4" y2="617.5"/>
<line x1="82.1" y1="667.5" x2="88.4" y2="667.5"/>
<line x1="82.1" y1="717.5" x2="88.4" y2="717.5"/>
<line x1="82.1" y1="767.5" x2="88.4" y2="767.5"/>
</g>
<g font-size="16.88" text-anchor="middle">
<text x="119.9" y="841.6">10</text>
<text x="222.1" y="841.6">15</text>
<text x="324.3" y="841.6">20</text>
<text x="426.5" y="841.6">25</text>
</g>
<g font-size="16.88" text-anchor="end">
<text x="75.3" y="25.05">0</text>
<text x="75.3" y="74.96">25</text>
<text x="75.3" y="124.86">50</text>
<text x="75.3" y="174.77">75</text>
<text x="75.3" y="224.68">100</text>
<text x="75.3" y="274.59">125</text>
<text x="75.3" y="324.5">150</text>
<text x="75.3" y="374.4">175</text>
<text x="75.3" y="424.31">200</text>
<text x="75.3" y="474.22">225</text>
<text x="75.3" y="524.12">250</text>
<text x="75.3" y="574.03">275</text>
<text x="75.3" y="623.94">300</text>
<text x="75.3" y="673.85">325</text>
<text x="75.3" y="723.76">350</text>
<text x="75.3" y="773.66">375</text>
</g>
</g>
<g id="panel1">
<g stroke="#b0b0b0" stroke-width="1" stroke-dasharray="3.1 1.35" fill="none">
<line x1="667.5" y1="19.4" x2="667.5" y2="814.4"/>
<line x1="754.5" y1="19.4" x2="754.5" y2="814.4"/>
<line x1="842.5" y1="19.4" x2="842.5" y2="814.4"/>
<line x1="930.5" y1="19.4" x2="930.5" y2="814.4"/>
<line x1="580.5" y1="68.5" x2="982.6" y2="68.5"/>
<line x1="580.5" y1="118.5" x2="982.6" y2="118.5"/>
<line x1="580.5" y1="168.5" x2="982.6" y2="168.5"/>
<line x1="580.5" y1="218.5" x2="982.6" y2="218.5"/>
<line x1="580.5" y1="268.5" x2="982.6" y2="268.5"/>
<line x1="580.5" y1="318.5" x2="982.6" y2="318.5"/>
<line x1="580.5" y1="368.5" x2="982.6" y2="368.5"/>
<line x1="580.5" y1="418.5" x2="982.6" y2="418.5"/>
<line x1="580.5" y1="468.5" x2="982.6" y2="468.5"/>
<line x1="580.5" y1="518.5" x2="982.6" y2="518.5"/>
<line x1="580.5" y1="567.5" x2="982.6" y2="567.5"/>
<line x1="580.5" y1="617.5" x2="982.6" y2="617.5"/>
<line x1="580.5" y1="667.5" x2="982.6" y2="667.5"/>
<line x1="580.5" y1="717.5" x2="982.6" y2="717.5"/>
<line x1="580.5" y1="767.5" x2="982.6" y2="767.5"/>
</g>
<g clip-path="url(#cp1)">
<g fill="#00ffff">
<circle cx="797" cy="24" r="3.45"/>
<circle cx="796" cy="36" r="3.45"/>
<circle cx="796.5" cy="47" r="3.45"/>
<circle cx="794" cy="58" r="3.45"/>
<circle cx="793.5" cy="68" r="3.45"/>
<circle cx="795" cy="79" r="3.45"/>
<circle cx="799" cy="88" r="3.45"/>
<circle cx="805" cy="98" r="3.45"/>
<circle cx="812.1" cy="108.5" r="3.45"/>
<circle cx="819.5" cy="115.9" r="3.45"/>
<circle cx="826.3" cy="131.4" r="3.45"/>
<circle cx="836.5" cy="144.6" r="3.45"/>
<circle cx="830.1" cy="153.1" r="3.45"/>
<circle cx="839.7" cy="163.1" r="3.45"/>
<circle cx="842" cy="180" r="3.45"/>
<circle cx="843" cy="200" r="3.45"/>
<circle cx="842" cy="218" r="3.45"/>
<circle cx="841.8" cy="234.2" r="3.45"/>
<circle cx="841.8" cy="245.4" r="3.45"/>
<circle cx="843" cy="258" r="3.45"/>
<circle cx="843.9" cy="270.9" r="3.45"/>
<circle cx="849.2" cy="281.5" r="3.45"/>
<circle cx="865" cy="291" r="3.45"/>
<circle cx="880.4" cy="300" r="3.45"/>
<circle cx="875.8" cy="311.9" r="3.45"/>
<circle cx="871.1" cy="322.9" r="3.45"/>
<circle cx="869.4" cy="333.5" r="3.45"/>
<circle cx="864.1" cy="344.6" r="3.45"/>
<circle cx="858.1" cy="354.3" r="3.45"/>
<circle cx="854.5" cy="365.4" r="3.45"/>
<circle cx="852.4" cy="376.4" r="3.45"/>
<circle cx="851.3" cy="387.7" r="3.45"/>
<circle cx="846" cy="397.2" r="3.45"/>
<circle cx="842.8" cy="409.3" r="3.45"/>
<circle cx="840.3" cy="420" r="3.45"/>
<circle cx="838.6" cy="430.8" r="3.45"/>
<circle cx="834.4" cy="442.9" r="3.45"/>
<circle cx="830.1" cy="453.1" r="3.45"/>
<circle cx="821.6" cy="464.5" r="3.45"/>
<circle cx="814.2" cy="474.7" r="3.45"/>
<circle cx="807.8" cy="484.9" r="3.45"/>
<circle cx="803.6" cy="495.9" r="3.45"/>
<circle cx="801.4" cy="508" r="3.45"/>
<circle cx="797.2" cy="518.9" r="3.45"/>
<circle cx="791.9" cy="531" r="3.45"/>
<circle cx="784.5" cy="541.6" r="3.45"/>
<circle cx="779" cy="550.5" r="3.45"/>
<circle cx="773.4" cy="559.6" r="3.45"/>
<circle cx="764.3" cy="567.1" r="3.45"/>
<circle cx="754.7" cy="574.9" r="3.45"/>
<circle cx="746.2" cy="583.4" r="3.45"/>
<circle cx="740.9" cy="592.5" r="3.45"/>
<circle cx="736.3" cy="602.1" r="3.45"/>
<circle cx="727.1" cy="613.3" r="3.45"/>
<circle cx="717.6" cy="625.5" r="3.45"/>
<circle cx="709.1" cy="638.2" r="3.45"/>
<circle cx="707" cy="650.9" r="3.45"/>
<circle cx="702.7" cy="661.6" r="3.45"/>
<circle cx="698.5" cy="671.7" r="3.45"/>
<circle cx="690" cy="680.3" r="3.45"/>
<circle cx="683.6" cy="692" r="3.45"/>
<circle cx="676.2" cy="702.6" r="3.45"/>
<circle cx="673" cy="712.2" r="3.45"/>
<circle cx="671.9" cy="721.8" r="3.45"/>
<circle cx="671.9" cy="732.8" r="3.45"/>
<circle cx="670.9" cy="743.4" r="3.45"/>
<circle cx="670.9" cy="754.7" r="3.45"/>
<circle cx="669.8" cy="765.7" r="3.45"/>
<circle cx="669.8" cy="775.9" r="3.45"/>
<circle cx="669.8" cy="786.5" r="3.45"/>
<circle cx="669.8" cy="798.2" r="3.45"/>
<circle cx="663.4" cy="809.2" r="3.45"/>
<circle cx="802" cy="26" r="3.45"/>
<circle cx="806" cy="37" r="3.45"/>
<circle cx="813" cy="47" r="3.45"/>
<circle cx="817" cy="57" r="3.45"/>
<circle cx="816" cy="67" r="3.45"/>
<circle cx="822" cy="78" r="3.45"/>
<circle cx="832" cy="88" r="3.45"/>
<circle cx="850" cy="98" r="3.45"/>
<circle cx="868" cy="108" r="3.45"/>
<circle cx="883.2" cy="118.5" r="3.45"/>
<circle cx="884.9" cy="128.2" r="3.45"/>
<circle cx="890.6" cy="138.2" r="3.45"/>
<circle cx="891.3" cy="148.4" r="3.45"/>
<circle cx="892.1" cy="157.3" r="3.45"/>
<circle cx="890.6" cy="167.5" r="3.45"/>
<circle cx="884.3" cy="174.3" r="3.45"/>
<circle cx="877.3" cy="180.7" r="3.45"/>
<circle cx="876.4" cy="190.2" r="3.45"/>
<circle cx="912.3" cy="195.1" r="3.45"/>
<circle cx="930.3" cy="207.2" r="3.45"/>
<circle cx="938.4" cy="220.4" r="3.45"/>
<circle cx="937.3" cy="235.3" r="3.45"/>
<circle cx="932.5" cy="252.2" r="3.45"/>
<circle cx="932.5" cy="268.4" r="3.45"/>
<circle cx="927.8" cy="283.7" r="3.45"/>
<circle cx="925.7" cy="297.4" r="3.45"/>
<circle cx="923.5" cy="310.2" r="3.45"/>
<circle cx="921.4" cy="324" r="3.45"/>
<circle cx="921.4" cy="337.8" r="3.45"/>
<circle cx="918.2" cy="350.5" r="3.45"/>
<circle cx="912.9" cy="364.3" r="3.45"/>
<circle cx="907.6" cy="379.2" r="3.45"/>
<circle cx="906.1" cy="393.4" r="3.45"/>
<circle cx="904.4" cy="401.5" r="3.45"/>
<circle cx="903.4" cy="412.5" r="3.45"/>
<circle cx="905.5" cy="421.7" r="3.45"/>
<circle cx="902.3" cy="430.1" r="3.45"/>
<circle cx="896.4" cy="439.7" r="3.45"/>
<circle cx="891.7" cy="448.2" r="3.45"/>
<circle cx="887.9" cy="459.9" r="3.45"/>
<circle cx="884.3" cy="473" r="3.45"/>
<circle cx="881.3" cy="487.5" r="3.45"/>
<circle cx="879.4" cy="505.5" r="3.45"/>
<circle cx="877.3" cy="521.4" r="3.45"/>
<circle cx="874.3" cy="537.3" r="3.45"/>
<circle cx="871.5" cy="552.6" r="3.45"/>
<circle cx="871.5" cy="567.3" r="3.45"/>
<circle cx="867.3" cy="582.6" r="3.45"/>
<circle cx="860.3" cy="598.3" r="3.45"/>
<circle cx="856.2" cy="614.2" r="3.45"/>
<circle cx="852" cy="628" r="3.45"/>
<circle cx="849.8" cy="641.8" r="3.45"/>
<circle cx="847.3" cy="652.4" r="3.45"/>
<circle cx="845.4" cy="662.3" r="3.45"/>
<circle cx="840.3" cy="669.2" r="3.45"/>
<circle cx="834.4" cy="676" r="3.45"/>
<circle cx="821.6" cy="681.4" r="3.45"/>
<circle cx="814.2" cy="687.8" r="3.45"/>
<circle cx="801.4" cy="691" r="3.45"/>
<circle cx="796.1" cy="695.6" r="3.45"/>
<circle cx="784.5" cy="701.6" r="3.45"/>
<circle cx="783" cy="710" r="3.45"/>
<circle cx="781.3" cy="718.6" r="3.45"/>
<circle cx="773.2" cy="725.6" r="3.45"/>
<circle cx="764.3" cy="732.4" r="3.45"/>
<circle cx="751.5" cy="741.9" r="3.45"/>
<circle cx="745.2" cy="752.5" r="3.45"/>
<circle cx="744.1" cy="768.5" r="3.45"/>
<circle cx="742.6" cy="787.1" r="3.45"/>
<circle cx="739.2" cy="807.3" r="3.45"/>
<circle cx="830.6" cy="648" r="3.45"/>
<circle cx="825.5" cy="663" r="3.45"/>
<circle cx="822.7" cy="677.2" r="3.45"/>
<circle cx="820" cy="683.5" r="3.45"/>
<circle cx="812.7" cy="687.1" r="3.45"/>
<circle cx="808.5" cy="699.5" r="3.45"/>
<circle cx="801.4" cy="710" r="3.45"/>
<circle cx="798.42" cy="23.22" r="3.45"/>
<circle cx="797.31" cy="33.21" r="3.45"/>
<circle cx="798.1" cy="44.71" r="3.45"/>
<circle cx="797.1" cy="54.52" r="3.45"/>
<circle cx="796.74" cy="66.48" r="3.45"/>
<circle cx="798.48" cy="76.66" r="3.45"/>
<circle cx="800.8" cy="86.08" r="3.45"/>
<circle cx="809.57" cy="96.78" r="3.45"/>
<circle cx="817.5" cy="106.66" r="3.45"/>
<circle cx="826.12" cy="116.09" r="3.45"/>
<circle cx="839.92" cy="126.31" r="3.45"/>
<circle cx="847.31" cy="137.07" r="3.45"/>
<circle cx="850.33" cy="147.03" r="3.45"/>
<circle cx="850.33" cy="158.97" r="3.45"/>
<circle cx="850.96" cy="169.25" r="3.45"/>
<circle cx="850.15" cy="180.73" r="3.45"/>
<circle cx="849.49" cy="191.16" r="3.45"/>
<circle cx="851.47" cy="200.85" r="3.45"/>
<circle cx="853.25" cy="211.53" r="3.45"/>
<circle cx="853.46" cy="222.97" r="3.45"/>
<circle cx="856.67" cy="233.81" r="3.45"/>
<circle cx="863.33" cy="245.11" r="3.45"/>
<circle cx="871.06" cy="254.86" r="3.45"/>
<circle cx="877.97" cy="264.66" r="3.45"/>
<circle cx="884" cy="274.43" r="3.45"/>
<circle cx="889.84" cy="285.29" r="3.45"/>
<circle cx="890.82" cy="297.25" r="3.45"/>
<circle cx="890.87" cy="307.78" r="3.45"/>
<circle cx="889.43" cy="319.62" r="3.45"/>
<circle cx="886.82" cy="329.33" r="3.45"/>
<circle cx="884.48" cy="339.39" r="3.45"/>
<circle cx="883.06" cy="350.79" r="3.45"/>
<circle cx="879.4" cy="362.53" r="3.45"/>
<circle cx="875.56" cy="374.28" r="3.45"/>
<circle cx="872.82" cy="384.1" r="3.45"/>
<circle cx="869.33" cy="395.11" r="3.45"/>
<circle cx="868.35" cy="405.2" r="3.45"/>
<circle cx="864.02" cy="416.83" r="3.45"/>
<circle cx="859.31" cy="427.95" r="3.45"/>
<circle cx="853.53" cy="439.39" r="3.45"/>
<circle cx="847.2" cy="451.12" r="3.45"/>
<circle cx="834.46" cy="463.46" r="3.45"/>
<circle cx="826.86" cy="474.24" r="3.45"/>
<circle cx="820.84" cy="486.6" r="3.45"/>
<circle cx="817.84" cy="496.85" r="3.45"/>
<circle cx="815.21" cy="508.87" r="3.45"/>
<circle cx="811.47" cy="518.57" r="3.45"/>
<circle cx="806.48" cy="530.1" r="3.45"/>
<circle cx="800.74" cy="542.16" r="3.45"/>
<circle cx="793.53" cy="553.21" r="3.45"/>
<circle cx="784.89" cy="563.67" r="3.45"/>
<circle cx="773.56" cy="575.53" r="3.45"/>
<circle cx="763.52" cy="587.35" r="3.45"/>
<circle cx="756.63" cy="598.87" r="3.45"/>
<circle cx="751.78" cy="609.29" r="3.45"/>
<circle cx="744.93" cy="620.21" r="3.45"/>
<circle cx="737.65" cy="629.6" r="3.45"/>
<circle cx="732.47" cy="640.57" r="3.45"/>
<circle cx="729.05" cy="650.87" r="3.45"/>
<circle cx="723.29" cy="662.28" r="3.45"/>
<circle cx="718.31" cy="671.72" r="3.45"/>
<circle cx="710.51" cy="682.44" r="3.45"/>
<circle cx="704.33" cy="692.18" r="3.45"/>
<circle cx="697.5" cy="702.59" r="3.45"/>
<circle cx="691.55" cy="714.91" r="3.45"/>
<circle cx="687.95" cy="726.56" r="3.45"/>
<circle cx="685.8" cy="737.88" r="3.45"/>
<circle cx="683.23" cy="748.35" r="3.45"/>
<circle cx="680.62" cy="758.03" r="3.45"/>
<circle cx="679.52" cy="767.5" r="3.45"/>
<circle cx="678.25" cy="778.52" r="3.45"/>
<circle cx="677.05" cy="790.85" r="3.45"/>
<circle cx="673.94" cy="802.44" r="3.45"/>
<circle cx="670.91" cy="812.45" r="3.45"/>
<circle cx="797.78" cy="23.34" r="3.45"/>
<circle cx="798.33" cy="33.7" r="3.45"/>
<circle cx="798.41" cy="43.1" r="3.45"/>
<circle cx="798.42" cy="53.33" r="3.45"/>
<circle cx="799.09" cy="64.96" r="3.45"/>
<circle cx="800.98" cy="76.42" r="3.45"/>
<circle cx="805" cy="87.21" r="3.45"/>
<circle cx="815.94" cy="98.85" r="3.45"/>
<circle cx="828.6" cy="109.58" r="3.45"/>
<circle cx="843.56" cy="121.56" r="3.45"/>
<circle cx="852.65" cy="132.77" r="3.45"/>
<circle cx="857.77" cy="142.57" r="3.45"/>
<circle cx="860.32" cy="153.65" r="3.45"/>
<circle cx="862.47" cy="164.46" r="3.45"/>
<circle cx="862.01" cy="175.44" r="3.45"/>
<circle cx="860.82" cy="185.47" r="3.45"/>
<circle cx="860.35" cy="196.93" r="3.45"/>
<circle cx="861.99" cy="206.88" r="3.45"/>
<circle cx="862.81" cy="217.16" r="3.45"/>
<circle cx="863.92" cy="227.26" r="3.45"/>
<circle cx="870.65" cy="237.44" r="3.45"/>
<circle cx="875.86" cy="247.37" r="3.45"/>
<circle cx="884.91" cy="259.01" r="3.45"/>
<circle cx="893.55" cy="270.38" r="3.45"/>
<circle cx="897.21" cy="279.85" r="3.45"/>
<circle cx="902.29" cy="290.96" r="3.45"/>
<circle cx="903.04" cy="300.58" r="3.45"/>
<circle cx="901.92" cy="311.89" r="3.45"/>
<circle cx="900.23" cy="322.49" r="3.45"/>
<circle cx="896.19" cy="333.48" r="3.45"/>
<circle cx="893.74" cy="345.15" r="3.45"/>
<circle cx="889.98" cy="356.86" r="3.45"/>
<circle cx="887.65" cy="368.29" r="3.45"/>
<circle cx="885.03" cy="378.55" r="3.45"/>
<circle cx="882.67" cy="388.22" r="3.45"/>
<circle cx="881.33" cy="399.35" r="3.45"/>
<circle cx="878.2" cy="410.33" r="3.45"/>
<circle cx="873.82" cy="422.39" r="3.45"/>
<circle cx="868.55" cy="434.41" r="3.45"/>
<circle cx="864.47" cy="444.35" r="3.45"/>
<circle cx="854.61" cy="454.97" r="3.45"/>
<circle cx="847.58" cy="466.48" r="3.45"/>
<circle cx="842.31" cy="477.11" r="3.45"/>
<circle cx="836.93" cy="489.39" r="3.45"/>
<circle cx="833.21" cy="498.81" r="3.45"/>
<circle cx="830.96" cy="509.43" r="3.45"/>
<circle cx="825.9" cy="521.34" r="3.45"/>
<circle cx="819.67" cy="533.56" r="3.45"/>
<circle cx="814.56" cy="544.46" r="3.45"/>
<circle cx="810.39" cy="554.6" r="3.45"/>
<circle cx="803.51" cy="565.75" r="3.45"/>
<circle cx="795.61" cy="576.09" r="3.45"/>
<circle cx="788.33" cy="587.56" r="3.45"/>
<circle cx="781.12" cy="597.96" r="3.45"/>
<circle cx="775.83" cy="607.92" r="3.45"/>
<circle cx="769.53" cy="619.06" r="3.45"/>
<circle cx="762.37" cy="630.76" r="3.45"/>
<circle cx="756.36" cy="641.61" r="3.45"/>
<circle cx="752.82" cy="652.76" r="3.45"/>
<circle cx="750.11" cy="663.86" r="3.45"/>
<circle cx="743.46" cy="674.81" r="3.45"/>
<circle cx="734.83" cy="684.21" r="3.45"/>
<circle cx="726.42" cy="694.71" r="3.45"/>
<circle cx="717.07" cy="706.7" r="3.45"/>
<circle cx="711.32" cy="717.62" r="3.45"/>
<circle cx="704.2" cy="729.35" r="3.45"/>
<circle cx="699.46" cy="741.59" r="3.45"/>
<circle cx="695.54" cy="751.08" r="3.45"/>
<circle cx="693.18" cy="762.65" r="3.45"/>
<circle cx="690.8" cy="773.49" r="3.45"/>
<circle cx="690.12" cy="782.88" r="3.45"/>
<circle cx="687.46" cy="792.92" r="3.45"/>
<circle cx="684.21" cy="803.78" r="3.45"/>
<circle cx="681.24" cy="814.55" r="3.45"/>
<circle cx="799.56" cy="27.52" r="3.45"/>
<circle cx="800.46" cy="38.83" r="3.45"/>
<circle cx="803.35" cy="49.44" r="3.45"/>
<circle cx="807.27" cy="59.42" r="3.45"/>
<circle cx="808.55" cy="70.82" r="3.45"/>
<circle cx="814.71" cy="83.11" r="3.45"/>
<circle cx="824.54" cy="93.77" r="3.45"/>
<circle cx="839.96" cy="105.7" r="3.45"/>
<circle cx="851.77" cy="115.19" r="3.45"/>
<circle cx="865.37" cy="126.16" r="3.45"/>
<circle cx="871.1" cy="136.14" r="3.45"/>
<circle cx="875.02" cy="147.01" r="3.45"/>
<circle cx="875.71" cy="158.22" r="3.45"/>
<circle cx="874.18" cy="170.16" r="3.45"/>
<circle cx="868.43" cy="181.11" r="3.45"/>
<circle cx="873.47" cy="193.1" r="3.45"/>
<circle cx="875.25" cy="203.46" r="3.45"/>
<circle cx="878.12" cy="213.23" r="3.45"/>
<circle cx="880.58" cy="224" r="3.45"/>
<circle cx="885.92" cy="235.52" r="3.45"/>
<circle cx="891.91" cy="247.03" r="3.45"/>
<circle cx="899.17" cy="256.52" r="3.45"/>
<circle cx="906.87" cy="266.65" r="3.45"/>
<circle cx="911.45" cy="276.79" r="3.45"/>
<circle cx="914.26" cy="287.59" r="3.45"/>
<circle cx="914.29" cy="299.55" r="3.45"/>
<circle cx="913.44" cy="309.74" r="3.45"/>
<circle cx="912.66" cy="319.26" r="3.45"/>
<circle cx="911.44" cy="331.33" r="3.45"/>
<circle cx="907.71" cy="343.32" r="3.45"/>
<circle cx="905.56" cy="355.01" r="3.45"/>
<circle cx="901.76" cy="364.51" r="3.45"/>
<circle cx="898.22" cy="374.67" r="3.45"/>
<circle cx="894.75" cy="384.58" r="3.45"/>
<circle cx="892.91" cy="396.71" r="3.45"/>
<circle cx="889.14" cy="406.46" r="3.45"/>
<circle cx="887.59" cy="416.23" r="3.45"/>
<circle cx="884.5" cy="426.27" r="3.45"/>
<circle cx="878.97" cy="438.02" r="3.45"/>
<circle cx="874.19" cy="448" r="3.45"/>
<circle cx="869.74" cy="460.32" r="3.45"/>
<circle cx="866.37" cy="470.63" r="3.45"/>
<circle cx="863.54" cy="481.96" r="3.45"/>
<circle cx="860.28" cy="491.92" r="3.45"/>
<circle cx="857.58" cy="502.17" r="3.45"/>
<circle cx="853.48" cy="514.15" r="3.45"/>
<circle cx="847.79" cy="526.52" r="3.45"/>
<circle cx="844.71" cy="536.63" r="3.45"/>
<circle cx="841.55" cy="547.05" r="3.45"/>
<circle cx="839.43" cy="556.61" r="3.45"/>
<circle cx="836.74" cy="566.57" r="3.45"/>
<circle cx="830.97" cy="577.11" r="3.45"/>
<circle cx="825.72" cy="588.05" r="3.45"/>
<circle cx="819.75" cy="599.15" r="3.45"/>
<circle cx="814.84" cy="609.58" r="3.45"/>
<circle cx="810.94" cy="619.43" r="3.45"/>
<circle cx="807.22" cy="630.48" r="3.45"/>
<circle cx="803.05" cy="640.91" r="3.45"/>
<circle cx="798.71" cy="651.32" r="3.45"/>
<circle cx="794.67" cy="663.62" r="3.45"/>
<circle cx="786.93" cy="674.76" r="3.45"/>
<circle cx="776.04" cy="684.19" r="3.45"/>
<circle cx="760.97" cy="696.44" r="3.45"/>
<circle cx="749.77" cy="708.72" r="3.45"/>
<circle cx="743.34" cy="719.27" r="3.45"/>
<circle cx="733.44" cy="731.59" r="3.45"/>
<circle cx="725.31" cy="741.29" r="3.45"/>
<circle cx="719.4" cy="753.42" r="3.45"/>
<circle cx="715.78" cy="763.31" r="3.45"/>
<circle cx="713.66" cy="775.28" r="3.45"/>
<circle cx="712.03" cy="786.69" r="3.45"/>
<circle cx="708.84" cy="798.94" r="3.45"/>
<circle cx="706.75" cy="809.23" r="3.45"/>
<circle cx="799.65" cy="23.49" r="3.45"/>
<circle cx="801.64" cy="35.39" r="3.45"/>
<circle cx="807.57" cy="46.57" r="3.45"/>
<circle cx="810.65" cy="56.59" r="3.45"/>
<circle cx="811.39" cy="68.31" r="3.45"/>
<circle cx="816.58" cy="79.47" r="3.45"/>
<circle cx="825.46" cy="91.33" r="3.45"/>
<circle cx="839.39" cy="102.55" r="3.45"/>
<circle cx="853.99" cy="114.1" r="3.45"/>
<circle cx="868.41" cy="125.8" r="3.45"/>
<circle cx="875.94" cy="136.21" r="3.45"/>
<circle cx="880.06" cy="145.88" r="3.45"/>
<circle cx="880.36" cy="157.95" r="3.45"/>
<circle cx="881.8" cy="167.69" r="3.45"/>
<circle cx="875.63" cy="178.74" r="3.45"/>
<circle cx="877.53" cy="191.09" r="3.45"/>
<circle cx="881.63" cy="201.52" r="3.45"/>
<circle cx="884.1" cy="211.69" r="3.45"/>
<circle cx="885.17" cy="222.21" r="3.45"/>
<circle cx="888.85" cy="232.2" r="3.45"/>
<circle cx="895.92" cy="243.83" r="3.45"/>
<circle cx="902.66" cy="254.11" r="3.45"/>
<circle cx="908.74" cy="263.71" r="3.45"/>
<circle cx="916.13" cy="274.87" r="3.45"/>
<circle cx="919.59" cy="285.03" r="3.45"/>
<circle cx="919.53" cy="294.95" r="3.45"/>
<circle cx="919.23" cy="304.38" r="3.45"/>
<circle cx="916.94" cy="316.28" r="3.45"/>
<circle cx="915.72" cy="326.79" r="3.45"/>
<circle cx="914.92" cy="337.97" r="3.45"/>
<circle cx="911.97" cy="348.79" r="3.45"/>
<circle cx="908.28" cy="360.78" r="3.45"/>
<circle cx="904.12" cy="370.36" r="3.45"/>
<circle cx="901.79" cy="381.64" r="3.45"/>
<circle cx="898.91" cy="393.51" r="3.45"/>
<circle cx="896.78" cy="403.74" r="3.45"/>
<circle cx="894.14" cy="414.42" r="3.45"/>
<circle cx="890.52" cy="424.81" r="3.45"/>
<circle cx="884.21" cy="435.16" r="3.45"/>
<circle cx="879.18" cy="447.38" r="3.45"/>
<circle cx="878.63" cy="457.44" r="3.45"/>
<circle cx="875.15" cy="469.03" r="3.45"/>
<circle cx="872.83" cy="478.55" r="3.45"/>
<circle cx="870.91" cy="490.27" r="3.45"/>
<circle cx="869.05" cy="499.9" r="3.45"/>
<circle cx="866.13" cy="511.64" r="3.45"/>
<circle cx="863.9" cy="521.22" r="3.45"/>
<circle cx="860.46" cy="531.25" r="3.45"/>
<circle cx="858.63" cy="541.42" r="3.45"/>
<circle cx="855.73" cy="551.65" r="3.45"/>
<circle cx="854.16" cy="563.36" r="3.45"/>
<circle cx="851.74" cy="574.25" r="3.45"/>
<circle cx="848.02" cy="583.77" r="3.45"/>
<circle cx="843.31" cy="593.7" r="3.45"/>
<circle cx="839.52" cy="604.34" r="3.45"/>
<circle cx="834.82" cy="615.85" r="3.45"/>
<circle cx="830.72" cy="627.15" r="3.45"/>
<circle cx="827.89" cy="637.97" r="3.45"/>
<circle cx="759.9" cy="722.56" r="3.45"/>
<circle cx="748.63" cy="734.02" r="3.45"/>
<circle cx="738.88" cy="745.15" r="3.45"/>
<circle cx="734.63" cy="755.7" r="3.45"/>
<circle cx="732.84" cy="767.59" r="3.45"/>
<circle cx="731.39" cy="778.12" r="3.45"/>
<circle cx="728.65" cy="790.21" r="3.45"/>
<circle cx="726.08" cy="800.92" r="3.45"/>
<circle cx="724.78" cy="810.36" r="3.45"/>
</g>
<polyline points="797.7,28.93 799.1,48.89 803.3,68.86 810.4,88.82 834.5,108.78 858.7,128.75 867.3,148.71 867.3,168.67 864.7,188.64 868.8,208.6 871.5,228.56 883.6,248.52 898.5,268.49 907.6,288.45 908.7,308.41 904.4,328.38 899.8,348.34 894.2,368.3 889.1,388.27 884.3,408.23 876.2,428.19 866.2,448.15 857.1,468.12 850.9,488.08 843.9,508.04 833.3,528.01 826.3,547.97 818.4,567.93 806.3,587.9 795.5,607.86 785.5,627.82 774.5,647.78 767.5,667.75 752.2,687.71 734.6,707.67 720.3,727.64 709.5,747.6 702.3,767.56 697.4,787.53 691.5,807.49" fill="none" stroke="#0000ff" stroke-width="2.8" stroke-linejoin="round" stroke-linecap="square"/>
<g fill="#0000ff">
<circle cx="797.7" cy="28.93" r="6.2"/>
<circle cx="799.1" cy="48.89" r="6.2"/>
<circle cx="803.3" cy="68.86" r="6.2"/>
<circle cx="810.4" cy="88.82" r="6.2"/>
<circle cx="834.5" cy="108.78" r="6.2"/>
<circle cx="858.7" cy="128.75" r="6.2"/>
<circle cx="867.3" cy="148.71" r="6.2"/>
<circle cx="867.3" cy="168.67" r="6.2"/>
<circle cx="864.7" cy="188.64" r="6.2"/>
<circle cx="868.8" cy="208.6" r="6.2"/>
<circle cx="871.5" cy="228.56" r="6.2"/>
<circle cx="883.6" cy="248.52" r="6.2"/>
<circle cx="898.5" cy="268.49" r="6.2"/>
<circle cx="907.6" cy="288.45" r="6.2"/>
<circle cx="908.7" cy="308.41" r="6.2"/>
<circle cx="904.4" cy="328.38" r="6.2"/>
<circle cx="899.8" cy="348.34" r="6.2"/>
<circle cx="894.2" cy="368.3" r="6.2"/>
<circle cx="889.1" cy="388.27" r="6.2"/>
<circle cx="884.3" cy="408.23" r="6.2"/>
<circle cx="876.2" cy="428.19" r="6.2"/>
<circle cx="866.2" cy="448.15" r="6.2"/>
<circle cx="857.1" cy="468.12" r="6.2"/>
<circle cx="850.9" cy="488.08" r="6.2"/>
<circle cx="843.9" cy="508.04" r="6.2"/>
<circle cx="833.3" cy="528.01" r="6.2"/>
<circle cx="826.3" cy="547.97" r="6.2"/>
<circle cx="818.4" cy="567.93" r="6.2"/>
<circle cx="806.3" cy="587.9" r="6.2"/>
<circle cx="795.5" cy="607.86" r="6.2"/>
<circle cx="785.5" cy="627.82" r="6.2"/>
<circle cx="774.5" cy="647.78" r="6.2"/>
<circle cx="767.5" cy="667.75" r="6.2"/>
<circle cx="752.2" cy="687.71" r="6.2"/>
<circle cx="734.6" cy="707.67" r="6.2"/>
<circle cx="720.3" cy="727.64" r="6.2"/>
<circle cx="709.5" cy="747.6" r="6.2"/>
<circle cx="702.3" cy="767.56" r="6.2"/>
<circle cx="697.4" cy="787.53" r="6.2"/>
<circle cx="691.5" cy="807.49" r="6.2"/>
</g>
<polyline points="824.6,18.95 825.5,22.94 826.4,26.94 827.2,30.93 828.1,34.92 829,38.91 829.9,42.91 831,48.89 833,58.88 835.2,68.86 836.6,78.84 838.4,88.82 840.6,98.8 843.2,108.78 846,118.77 848.4,138.73 848.2,158.69 841.8,178.65 834.4,198.62 824.8,218.58 798.3,268.49 768.5,318.39 709.5,418.21 668.7,518.02 641.1,617.84 631.6,717.66 624,817.47" fill="none" stroke="#ff0000" stroke-width="8.5" stroke-linejoin="round" stroke-linecap="square"/>
<g fill="#ff0000">
<circle cx="824.6" cy="18.95" r="6.2"/>
<circle cx="825.5" cy="22.94" r="6.2"/>
<circle cx="826.4" cy="26.94" r="6.2"/>
<circle cx="827.2" cy="30.93" r="6.2"/>
<circle cx="828.1" cy="34.92" r="6.2"/>
<circle cx="829" cy="38.91" r="6.2"/>
<circle cx="829.9" cy="42.91" r="6.2"/>
<circle cx="831" cy="48.89" r="6.2"/>
<circle cx="833" cy="58.88" r="6.2"/>
<circle cx="835.2" cy="68.86" r="6.2"/>
<circle cx="836.6" cy="78.84" r="6.2"/>
<circle cx="838.4" cy="88.82" r="6.2"/>
<circle cx="840.6" cy="98.8" r="6.2"/>
<circle cx="843.2" cy="108.78" r="6.2"/>
<circle cx="846" cy="118.77" r="6.2"/>
<circle cx="848.4" cy="138.73" r="6.2"/>
<circle cx="848.2" cy="158.69" r="6.2"/>
<circle cx="841.8" cy="178.65" r="6.2"/>
<circle cx="834.4" cy="198.62" r="6.2"/>
<circle cx="824.8" cy="218.58" r="6.2"/>
<circle cx="798.3" cy="268.49" r="6.2"/>
<circle cx="768.5" cy="318.39" r="6.2"/>
<circle cx="709.5" cy="418.21" r="6.2"/>
<circle cx="668.7" cy="518.02" r="6.2"/>
<circle cx="641.1" cy="617.84" r="6.2"/>
<circle cx="631.6" cy="717.66" r="6.2"/>
<circle cx="624" cy="817.47" r="6.2"/>
</g>
<polyline points="787.1,18.95 787.1,22.94 787.1,26.94 787.1,30.93 787.1,34.92 787.1,38.91 787.1,42.91 787.1,48.89 787.1,58.88 786.8,68.86 787,78.84 787.6,88.82 788.4,98.8 796,108.78 803.7,118.77 817.4,138.73 826.3,158.69 832.2,178.65 833.3,198.62 841.2,218.58 855.2,268.49 854.5,318.39 827.4,418.21 787.6,518.02 717.1,617.84 682.5,717.66 650.5,817.47" fill="none" stroke="#80561a" stroke-width="3.45" stroke-linejoin="round" stroke-linecap="square"/>
<polyline points="787.1,18.95 787.1,22.94 787.1,26.94 787.1,30.93 787.1,34.92 787.1,38.91 787.1,42.91 787.1,48.89 787.1,58.88 786.8,68.86 787,78.84 787.6,88.82 788.4,98.8 796,108.78 803.7,118.77 817.4,138.73 826.3,158.69 832.2,178.65 833.3,198.62 841.2,218.58 855.2,268.49 854.5,318.39 827.4,418.21 787.6,518.02 717.1,617.84 682.5,717.66 650.5,817.47" fill="none" stroke="#ffa500" stroke-width="2.7" stroke-linejoin="round" stroke-linecap="square"/>
<g fill="#ffa500" stroke="#a87420" stroke-width="0.5">
<circle cx="787.1" cy="18.95" r="6"/>
<circle cx="787.1" cy="22.94" r="6"/>
<circle cx="787.1" cy="26.94" r="6"/>
<circle cx="787.1" cy="30.93" r="6"/>
<circle cx="787.1" cy="34.92" r="6"/>
<circle cx="787.1" cy="38.91" r="6"/>
<circle cx="787.1" cy="42.91" r="6"/>
<circle cx="787.1" cy="48.89" r="6"/>
<circle cx="787.1" cy="58.88" r="6"/>
<circle cx="786.8" cy="68.86" r="6"/>
<circle cx="787" cy="78.84" r="6"/>
<circle cx="787.6" cy="88.82" r="6"/>
<circle cx="788.4" cy="98.8" r="6"/>
<circle cx="796" cy="108.78" r="6"/>
<circle cx="803.7" cy="118.77" r="6"/>
<circle cx="817.4" cy="138.73" r="6"/>
<circle cx="826.3" cy="158.69" r="6"/>
<circle cx="832.2" cy="178.65" r="6"/>
<circle cx="833.3" cy="198.62" r="6"/>
<circle cx="841.2" cy="218.58" r="6"/>
<circle cx="855.2" cy="268.49" r="6"/>
<circle cx="854.5" cy="318.39" r="6"/>
<circle cx="827.4" cy="418.21" r="6"/>
<circle cx="787.6" cy="518.02" r="6"/>
<circle cx="717.1" cy="617.84" r="6"/>
<circle cx="682.5" cy="717.66" r="6"/>
<circle cx="650.5" cy="817.47" r="6"/>
</g>
<polyline points="759.5,18.95 759.5,22.94 759.5,26.94 759.5,30.93 759.5,34.92 759.5,38.91 760,42.91 761.2,48.89 768.7,58.88 773.3,68.86 778.3,78.84 782.4,88.82 784.5,98.8 785.6,108.78 786.6,118.77 787.3,138.73 793.4,158.69 801.4,178.65 807.4,198.62 809.5,218.58 803.6,268.49 799.3,318.39 786.6,418.21 769.6,518.02 750.5,617.84 732.4,717.66 724.4,817.47" fill="none" stroke="#008000" stroke-width="2.8" stroke-linejoin="round" stroke-linecap="square"/>
<g fill="#008000">
<circle cx="759.5" cy="18.95" r="6.2"/>
<circle cx="759.5" cy="22.94" r="6.2"/>
<circle cx="759.5" cy="26.94" r="6.2"/>
<circle cx="759.5" cy="30.93" r="6.2"/>
<circle cx="759.5" cy="34.92" r="6.2"/>
<circle cx="759.5" cy="38.91" r="6.2"/>
<circle cx="760" cy="42.91" r="6.2"/>
<circle cx="761.2" cy="48.89" r="6.2"/>
<circle cx="768.7" cy="58.88" r="6.2"/>
<circle cx="773.3" cy="68.86" r="6.2"/>
<circle cx="778.3" cy="78.84" r="6.2"/>
<circle cx="782.4" cy="88.82" r="6.2"/>
<circle cx="784.5" cy="98.8" r="6.2"/>
<circle cx="785.6" cy="108.78" r="6.2"/>
<circle cx="786.6" cy="118.77" r="6.2"/>
<circle cx="787.3" cy="138.73" r="6.2"/>
<circle cx="793.4" cy="158.69" r="6.2"/>
<circle cx="801.4" cy="178.65" r="6.2"/>
<circle cx="807.4" cy="198.62" r="6.2"/>
<circle cx="809.5" cy="218.58" r="6.2"/>
<circle cx="803.6" cy="268.49" r="6.2"/>
<circle cx="799.3" cy="318.39" r="6.2"/>
<circle cx="786.6" cy="418.21" r="6.2"/>
<circle cx="769.6" cy="518.02" r="6.2"/>
<circle cx="750.5" cy="617.84" r="6.2"/>
<circle cx="732.4" cy="717.66" r="6.2"/>
<circle cx="724.4" cy="817.47" r="6.2"/>
</g>
<polyline points="811.4,19.93 811.4,22.02 811.4,24.24 811.4,26.58 811.4,29.09 811.4,31.81 811.4,34.78 811.4,38.05 811.4,41.71 811.4,45.84 811.4,50.51 812,55.88 813.3,62.07 817.5,69.26 822.5,77.64 826.7,87.62 829,99.4 832.3,113.57 836.5,130.34 841.8,150.31 844.6,174.46 848.6,203.21 851.8,237.94 857.3,279.87 865.2,330.17 864.5,390.46 836.5,463.13 784.5,549.97 745.6,653.97 681.5,777.94" fill="none" stroke="#ff00ff" stroke-width="2.8" stroke-linejoin="round" stroke-linecap="square"/>
<g fill="#ff00ff">
<circle cx="811.4" cy="19.93" r="6.2"/>
<circle cx="811.4" cy="22.02" r="6.2"/>
<circle cx="811.4" cy="24.24" r="6.2"/>
<circle cx="811.4" cy="26.58" r="6.2"/>
<circle cx="811.4" cy="29.09" r="6.2"/>
<circle cx="811.4" cy="31.81" r="6.2"/>
<circle cx="811.4" cy="34.78" r="6.2"/>
<circle cx="811.4" cy="38.05" r="6.2"/>
<circle cx="811.4" cy="41.71" r="6.2"/>
<circle cx="811.4" cy="45.84" r="6.2"/>
<circle cx="811.4" cy="50.51" r="6.2"/>
<circle cx="812" cy="55.88" r="6.2"/>
<circle cx="813.3" cy="62.07" r="6.2"/>
<circle cx="817.5" cy="69.26" r="6.2"/>
<circle cx="822.5" cy="77.64" r="6.2"/>
<circle cx="826.7" cy="87.62" r="6.2"/>
<circle cx="829" cy="99.4" r="6.2"/>
<circle cx="832.3" cy="113.57" r="6.2"/>
<circle cx="836.5" cy="130.34" r="6.2"/>
<circle cx="841.8" cy="150.31" r="6.2"/>
<circle cx="844.6" cy="174.46" r="6.2"/>
<circle cx="848.6" cy="203.21" r="6.2"/>
<circle cx="851.8" cy="237.94" r="6.2"/>
<circle cx="857.3" cy="279.87" r="6.2"/>
<circle cx="865.2" cy="330.17" r="6.2"/>
<circle cx="864.5" cy="390.46" r="6.2"/>
<circle cx="836.5" cy="463.13" r="6.2"/>
<circle cx="784.5" cy="549.97" r="6.2"/>
<circle cx="745.6" cy="653.97" r="6.2"/>
<circle cx="681.5" cy="777.94" r="6.2"/>
</g>
</g>
<rect x="580.5" y="19.4" width="402.1" height="795" fill="none" stroke="#000" stroke-width="1.33"/>
<g stroke="#000" stroke-width="1.33">
<line x1="667.5" y1="814.4" x2="667.5" y2="820.7"/>
<line x1="754.5" y1="814.4" x2="754.5" y2="820.7"/>
<line x1="842.5" y1="814.4" x2="842.5" y2="820.7"/>
<line x1="930.5" y1="814.4" x2="930.5" y2="820.7"/>
<line x1="574.2" y1="19.4" x2="580.5" y2="19.4"/>
<line x1="574.2" y1="68.5" x2="580.5" y2="68.5"/>
<line x1="574.2" y1="118.5" x2="580.5" y2="118.5"/>
<line x1="574.2" y1="168.5" x2="580.5" y2="168.5"/>
<line x1="574.2" y1="218.5" x2="580.5" y2="218.5"/>
<line x1="574.2" y1="268.5" x2="580.5" y2="268.5"/>
<line x1="574.2" y1="318.5" x2="580.5" y2="318.5"/>
<line x1="574.2" y1="368.5" x2="580.5" y2="368.5"/>
<line x1="574.2" y1="418.5" x2="580.5" y2="418.5"/>
<line x1="574.2" y1="468.5" x2="580.5" y2="468.5"/>
<line x1="574.2" y1="518.5" x2="580.5" y2="518.5"/>
<line x1="574.2" y1="567.5" x2="580.5" y2="567.5"/>
<line x1="574.2" y1="617.5" x2="580.5" y2="617.5"/>
<line x1="574.2" y1="667.5" x2="580.5" y2="667.5"/>
<line x1="574.2" y1="717.5" x2="580.5" y2="717.5"/>
<line x1="574.2" y1="767.5" x2="580.5" y2="767.5"/>
</g>
<g font-size="16.88" text-anchor="middle">
<text x="667.3" y="841.6">35.5</text>
<text x="754.9" y="841.6">36.0</text>
<text x="842.5" y="841.6">36.5</text>
<text x="930.1" y="841.6">37.0</text>
</g>
</g>
<g id="panel2">
<g stroke="#b0b0b0" stroke-width="1" stroke-dasharray="3.1 1.35" fill="none">
<line x1="1076.5" y1="19.4" x2="1076.5" y2="814.4"/>
<line x1="1135.5" y1="19.4" x2="1135.5" y2="814.4"/>
<line x1="1195.5" y1="19.4" x2="1195.5" y2="814.4"/>
<line x1="1255.5" y1="19.4" x2="1255.5" y2="814.4"/>
<line x1="1315.5" y1="19.4" x2="1315.5" y2="814.4"/>
<line x1="1375.5" y1="19.4" x2="1375.5" y2="814.4"/>
<line x1="1435.5" y1="19.4" x2="1435.5" y2="814.4"/>
<line x1="1072.4" y1="68.5" x2="1474.5" y2="68.5"/>
<line x1="1072.4" y1="118.5" x2="1474.5" y2="118.5"/>
<line x1="1072.4" y1="168.5" x2="1474.5" y2="168.5"/>
<line x1="1072.4" y1="218.5" x2="1474.5" y2="218.5"/>
<line x1="1072.4" y1="268.5" x2="1474.5" y2="268.5"/>
<line x1="1072.4" y1="318.5" x2="1474.5" y2="318.5"/>
<line x1="1072.4" y1="368.5" x2="1474.5" y2="368.5"/>
<line x1="1072.4" y1="418.5" x2="1474.5" y2="418.5"/>
<line x1="1072.4" y1="468.5" x2="1474.5" y2="468.5"/>
<line x1="1072.4" y1="518.5" x2="1474.5" y2="518.5"/>
<line x1="1072.4" y1="567.5" x2="1474.5" y2="567.5"/>
<line x1="1072.4" y1="617.5" x2="1474.5" y2="617.5"/>
<line x1="1072.4" y1="667.5" x2="1474.5" y2="667.5"/>
<line x1="1072.4" y1="717.5" x2="1474.5" y2="717.5"/>
<line x1="1072.4" y1="767.5" x2="1474.5" y2="767.5"/>
</g>
<g clip-path="url(#cp2)">
<g fill="#00ffff">
<circle cx="1102.63" cy="26.52" r="3.45"/>
<circle cx="1104.92" cy="36.94" r="3.45"/>
<circle cx="1107.01" cy="46.32" r="3.45"/>
<circle cx="1109.47" cy="56.74" r="3.45"/>
<circle cx="1112.72" cy="68.59" r="3.45"/>
<circle cx="1114.96" cy="79.24" r="3.45"/>
<circle cx="1117.22" cy="90.36" r="3.45"/>
<circle cx="1122.13" cy="100.23" r="3.45"/>
<circle cx="1124.53" cy="110.89" r="3.45"/>
<circle cx="1124.47" cy="121.38" r="3.45"/>
<circle cx="1135.91" cy="131.17" r="3.45"/>
<circle cx="1151.16" cy="141.29" r="3.45"/>
<circle cx="1165.56" cy="150.96" r="3.45"/>
<circle cx="1173.47" cy="162.94" r="3.45"/>
<circle cx="1179.99" cy="173.83" r="3.45"/>
<circle cx="1185.03" cy="184.76" r="3.45"/>
<circle cx="1191.47" cy="196.45" r="3.45"/>
<circle cx="1197.81" cy="207.9" r="3.45"/>
<circle cx="1204.21" cy="218.17" r="3.45"/>
<circle cx="1212.2" cy="230.21" r="3.45"/>
<circle cx="1219.13" cy="241.26" r="3.45"/>
<circle cx="1226.58" cy="253.51" r="3.45"/>
<circle cx="1233.12" cy="263.71" r="3.45"/>
<circle cx="1238.19" cy="274.14" r="3.45"/>
<circle cx="1242.99" cy="283.72" r="3.45"/>
<circle cx="1248.16" cy="295.52" r="3.45"/>
<circle cx="1253.69" cy="306.77" r="3.45"/>
<circle cx="1258.92" cy="318.57" r="3.45"/>
<circle cx="1264.41" cy="329.08" r="3.45"/>
<circle cx="1269.56" cy="341.22" r="3.45"/>
<circle cx="1274.15" cy="352.85" r="3.45"/>
<circle cx="1278" cy="364.67" r="3.45"/>
<circle cx="1281.9" cy="374.16" r="3.45"/>
<circle cx="1286.94" cy="386" r="3.45"/>
<circle cx="1293.74" cy="398.24" r="3.45"/>
<circle cx="1298.77" cy="409.82" r="3.45"/>
<circle cx="1303.13" cy="420.53" r="3.45"/>
<circle cx="1308.26" cy="431.76" r="3.45"/>
<circle cx="1313.67" cy="441.96" r="3.45"/>
<circle cx="1317.71" cy="451.93" r="3.45"/>
<circle cx="1322.66" cy="463.98" r="3.45"/>
<circle cx="1325.02" cy="475.29" r="3.45"/>
<circle cx="1327.3" cy="487.29" r="3.45"/>
<circle cx="1327.96" cy="497.39" r="3.45"/>
<circle cx="1330.7" cy="508" r="3.45"/>
<circle cx="1333.67" cy="519.84" r="3.45"/>
<circle cx="1334.52" cy="529.64" r="3.45"/>
<circle cx="1337.45" cy="540.58" r="3.45"/>
<circle cx="1340.14" cy="551.33" r="3.45"/>
<circle cx="1341.07" cy="561.43" r="3.45"/>
<circle cx="1343.13" cy="573.06" r="3.45"/>
<circle cx="1345.33" cy="584.42" r="3.45"/>
<circle cx="1347.94" cy="595" r="3.45"/>
<circle cx="1350.18" cy="606.67" r="3.45"/>
<circle cx="1353.15" cy="618.98" r="3.45"/>
<circle cx="1355.55" cy="628.63" r="3.45"/>
<circle cx="1358.24" cy="641" r="3.45"/>
<circle cx="1359.96" cy="651.18" r="3.45"/>
<circle cx="1360.88" cy="661.86" r="3.45"/>
<circle cx="1363.53" cy="671.87" r="3.45"/>
<circle cx="1366.89" cy="681.41" r="3.45"/>
<circle cx="1371.45" cy="692.48" r="3.45"/>
<circle cx="1375.71" cy="702.22" r="3.45"/>
<circle cx="1381.14" cy="713.39" r="3.45"/>
<circle cx="1385.92" cy="725.58" r="3.45"/>
<circle cx="1390.23" cy="737.4" r="3.45"/>
<circle cx="1393.36" cy="747.31" r="3.45"/>
<circle cx="1396.68" cy="757.27" r="3.45"/>
<circle cx="1400.2" cy="769.23" r="3.45"/>
<circle cx="1403.39" cy="780.16" r="3.45"/>
<circle cx="1404.67" cy="792.52" r="3.45"/>
<circle cx="1407.06" cy="802.99" r="3.45"/>
<circle cx="1407.82" cy="814.09" r="3.45"/>
<circle cx="1104.96" cy="25.33" r="3.45"/>
<circle cx="1106.43" cy="37.11" r="3.45"/>
<circle cx="1108.67" cy="47.97" r="3.45"/>
<circle cx="1110.86" cy="58.72" r="3.45"/>
<circle cx="1112.63" cy="68.81" r="3.45"/>
<circle cx="1115.96" cy="80.2" r="3.45"/>
<circle cx="1120.17" cy="90.34" r="3.45"/>
<circle cx="1127.94" cy="102.63" r="3.45"/>
<circle cx="1133.41" cy="112.74" r="3.45"/>
<circle cx="1138.41" cy="125.01" r="3.45"/>
<circle cx="1149.83" cy="134.68" r="3.45"/>
<circle cx="1163.4" cy="145.39" r="3.45"/>
<circle cx="1174.13" cy="156.43" r="3.45"/>
<circle cx="1182.36" cy="168.66" r="3.45"/>
<circle cx="1188.89" cy="180.57" r="3.45"/>
<circle cx="1196.21" cy="190.88" r="3.45"/>
<circle cx="1201.82" cy="202.16" r="3.45"/>
<circle cx="1209.05" cy="214.11" r="3.45"/>
<circle cx="1215.52" cy="224.02" r="3.45"/>
<circle cx="1222.45" cy="235.85" r="3.45"/>
<circle cx="1229.92" cy="247.67" r="3.45"/>
<circle cx="1237.42" cy="259.94" r="3.45"/>
<circle cx="1244.75" cy="269.98" r="3.45"/>
<circle cx="1250.24" cy="281.57" r="3.45"/>
<circle cx="1255.04" cy="292.32" r="3.45"/>
<circle cx="1261.52" cy="304.57" r="3.45"/>
<circle cx="1266.48" cy="316.26" r="3.45"/>
<circle cx="1269.73" cy="325.69" r="3.45"/>
<circle cx="1276.29" cy="337.9" r="3.45"/>
<circle cx="1281.87" cy="349.74" r="3.45"/>
<circle cx="1286.18" cy="359.98" r="3.45"/>
<circle cx="1289.5" cy="372.25" r="3.45"/>
<circle cx="1294.01" cy="382.12" r="3.45"/>
<circle cx="1299.34" cy="394.32" r="3.45"/>
<circle cx="1302.39" cy="405.48" r="3.45"/>
<circle cx="1306.02" cy="414.94" r="3.45"/>
<circle cx="1311.16" cy="426.75" r="3.45"/>
<circle cx="1314.85" cy="437.08" r="3.45"/>
<circle cx="1318.21" cy="446.68" r="3.45"/>
<circle cx="1322.48" cy="456.55" r="3.45"/>
<circle cx="1325.29" cy="466.2" r="3.45"/>
<circle cx="1327.91" cy="476.93" r="3.45"/>
<circle cx="1329.98" cy="487.18" r="3.45"/>
<circle cx="1333.05" cy="499.31" r="3.45"/>
<circle cx="1335.86" cy="509.84" r="3.45"/>
<circle cx="1339.18" cy="519.54" r="3.45"/>
<circle cx="1340.9" cy="528.94" r="3.45"/>
<circle cx="1342.57" cy="540.44" r="3.45"/>
<circle cx="1343.86" cy="550.14" r="3.45"/>
<circle cx="1346.94" cy="562.39" r="3.45"/>
<circle cx="1348.45" cy="574.02" r="3.45"/>
<circle cx="1350.73" cy="585.11" r="3.45"/>
<circle cx="1352.68" cy="596.21" r="3.45"/>
<circle cx="1354.83" cy="606.43" r="3.45"/>
<circle cx="1358.96" cy="618.51" r="3.45"/>
<circle cx="1360.21" cy="628.82" r="3.45"/>
<circle cx="1362.61" cy="638.64" r="3.45"/>
<circle cx="1364.98" cy="649.76" r="3.45"/>
<circle cx="1368.06" cy="661.73" r="3.45"/>
<circle cx="1372.53" cy="674.01" r="3.45"/>
<circle cx="1375.17" cy="684.53" r="3.45"/>
<circle cx="1380.13" cy="694.63" r="3.45"/>
<circle cx="1383.57" cy="705.4" r="3.45"/>
<circle cx="1387.14" cy="715.11" r="3.45"/>
<circle cx="1391.24" cy="726.28" r="3.45"/>
<circle cx="1394.76" cy="736.32" r="3.45"/>
<circle cx="1396.99" cy="746.59" r="3.45"/>
<circle cx="1400.93" cy="758.33" r="3.45"/>
<circle cx="1403.31" cy="770.54" r="3.45"/>
<circle cx="1405.52" cy="781.79" r="3.45"/>
<circle cx="1407.56" cy="792.01" r="3.45"/>
<circle cx="1409.86" cy="804.23" r="3.45"/>
<circle cx="1409.66" cy="815.4" r="3.45"/>
<circle cx="1107.64" cy="28.72" r="3.45"/>
<circle cx="1110.41" cy="39.72" r="3.45"/>
<circle cx="1112.33" cy="50.76" r="3.45"/>
<circle cx="1114.85" cy="61.56" r="3.45"/>
<circle cx="1117.66" cy="71.51" r="3.45"/>
<circle cx="1120.33" cy="81.01" r="3.45"/>
<circle cx="1124.7" cy="91.58" r="3.45"/>
<circle cx="1133.74" cy="102.47" r="3.45"/>
<circle cx="1140.52" cy="114.18" r="3.45"/>
<circle cx="1146.52" cy="124.58" r="3.45"/>
<circle cx="1159.6" cy="136.86" r="3.45"/>
<circle cx="1171.26" cy="146.58" r="3.45"/>
<circle cx="1180.55" cy="157.93" r="3.45"/>
<circle cx="1189.48" cy="167.4" r="3.45"/>
<circle cx="1196.01" cy="177.44" r="3.45"/>
<circle cx="1200.57" cy="187.21" r="3.45"/>
<circle cx="1207.8" cy="199.52" r="3.45"/>
<circle cx="1214.23" cy="210.93" r="3.45"/>
<circle cx="1219.82" cy="221.98" r="3.45"/>
<circle cx="1226.7" cy="233.94" r="3.45"/>
<circle cx="1234.52" cy="246.18" r="3.45"/>
<circle cx="1241.19" cy="256.69" r="3.45"/>
<circle cx="1248.03" cy="268.65" r="3.45"/>
<circle cx="1253.16" cy="278.9" r="3.45"/>
<circle cx="1258.5" cy="290.39" r="3.45"/>
<circle cx="1264.36" cy="302.26" r="3.45"/>
<circle cx="1270.8" cy="312.77" r="3.45"/>
<circle cx="1275.88" cy="324.12" r="3.45"/>
<circle cx="1281.83" cy="335.68" r="3.45"/>
<circle cx="1286.51" cy="345.33" r="3.45"/>
<circle cx="1290.89" cy="357" r="3.45"/>
<circle cx="1294.59" cy="366.96" r="3.45"/>
<circle cx="1297.81" cy="377.22" r="3.45"/>
<circle cx="1302.38" cy="387.32" r="3.45"/>
<circle cx="1304.93" cy="397.55" r="3.45"/>
<circle cx="1308.93" cy="409.76" r="3.45"/>
<circle cx="1312.81" cy="420.44" r="3.45"/>
<circle cx="1316.81" cy="432.39" r="3.45"/>
<circle cx="1321.5" cy="442.18" r="3.45"/>
<circle cx="1326.11" cy="452.31" r="3.45"/>
<circle cx="1328.76" cy="461.73" r="3.45"/>
<circle cx="1331.91" cy="472.52" r="3.45"/>
<circle cx="1333.66" cy="484.75" r="3.45"/>
<circle cx="1334.9" cy="495.69" r="3.45"/>
<circle cx="1338.09" cy="507.23" r="3.45"/>
<circle cx="1340.73" cy="517.1" r="3.45"/>
<circle cx="1342.02" cy="526.66" r="3.45"/>
<circle cx="1344.51" cy="536.71" r="3.45"/>
<circle cx="1346.93" cy="548.95" r="3.45"/>
<circle cx="1348.86" cy="560.42" r="3.45"/>
<circle cx="1351.55" cy="572.59" r="3.45"/>
<circle cx="1355.18" cy="584.29" r="3.45"/>
<circle cx="1356.38" cy="594.45" r="3.45"/>
<circle cx="1359.46" cy="604.41" r="3.45"/>
<circle cx="1361.59" cy="615.63" r="3.45"/>
<circle cx="1365.05" cy="625.43" r="3.45"/>
<circle cx="1368.17" cy="636.27" r="3.45"/>
<circle cx="1371.49" cy="647.26" r="3.45"/>
<circle cx="1374.71" cy="657.4" r="3.45"/>
<circle cx="1377.89" cy="669.69" r="3.45"/>
<circle cx="1380.64" cy="679.25" r="3.45"/>
<circle cx="1384.03" cy="691.4" r="3.45"/>
<circle cx="1387.36" cy="700.9" r="3.45"/>
<circle cx="1390.77" cy="713.18" r="3.45"/>
<circle cx="1393.6" cy="723.79" r="3.45"/>
<circle cx="1396.66" cy="733.63" r="3.45"/>
<circle cx="1399.34" cy="744.88" r="3.45"/>
<circle cx="1402.82" cy="756.39" r="3.45"/>
<circle cx="1405.76" cy="766.96" r="3.45"/>
<circle cx="1408.77" cy="777.76" r="3.45"/>
<circle cx="1410.45" cy="789.15" r="3.45"/>
<circle cx="1413.61" cy="799.35" r="3.45"/>
<circle cx="1414.27" cy="809.67" r="3.45"/>
<circle cx="1110.22" cy="23.13" r="3.45"/>
<circle cx="1113" cy="35.42" r="3.45"/>
<circle cx="1114.7" cy="45.38" r="3.45"/>
<circle cx="1117.23" cy="57.74" r="3.45"/>
<circle cx="1120.39" cy="69.96" r="3.45"/>
<circle cx="1125" cy="80.12" r="3.45"/>
<circle cx="1129.79" cy="91.05" r="3.45"/>
<circle cx="1139.73" cy="101.62" r="3.45"/>
<circle cx="1152.3" cy="112.23" r="3.45"/>
<circle cx="1160.85" cy="123.98" r="3.45"/>
<circle cx="1170.99" cy="135.84" r="3.45"/>
<circle cx="1181.24" cy="145.99" r="3.45"/>
<circle cx="1188.39" cy="157" r="3.45"/>
<circle cx="1200.7" cy="168.44" r="3.45"/>
<circle cx="1207.9" cy="179.6" r="3.45"/>
<circle cx="1213.66" cy="189.35" r="3.45"/>
<circle cx="1219.66" cy="199.9" r="3.45"/>
<circle cx="1226.72" cy="210.76" r="3.45"/>
<circle cx="1233.5" cy="222.91" r="3.45"/>
<circle cx="1240.31" cy="234.75" r="3.45"/>
<circle cx="1246.42" cy="246.16" r="3.45"/>
<circle cx="1251.36" cy="256.38" r="3.45"/>
<circle cx="1260.33" cy="268.57" r="3.45"/>
<circle cx="1265.59" cy="278.64" r="3.45"/>
<circle cx="1271.18" cy="289.03" r="3.45"/>
<circle cx="1277.3" cy="298.89" r="3.45"/>
<circle cx="1283.94" cy="310.03" r="3.45"/>
<circle cx="1287.81" cy="321.8" r="3.45"/>
<circle cx="1292.22" cy="333.28" r="3.45"/>
<circle cx="1297.39" cy="345.14" r="3.45"/>
<circle cx="1300.96" cy="356.63" r="3.45"/>
<circle cx="1303.59" cy="367.97" r="3.45"/>
<circle cx="1307.47" cy="378.1" r="3.45"/>
<circle cx="1310.8" cy="390.36" r="3.45"/>
<circle cx="1315.19" cy="402.7" r="3.45"/>
<circle cx="1317.78" cy="414.28" r="3.45"/>
<circle cx="1322.75" cy="426.65" r="3.45"/>
<circle cx="1325.65" cy="438.68" r="3.45"/>
<circle cx="1330.4" cy="450.69" r="3.45"/>
<circle cx="1334.26" cy="462.34" r="3.45"/>
<circle cx="1338.21" cy="474.15" r="3.45"/>
<circle cx="1339.74" cy="485.6" r="3.45"/>
<circle cx="1342.24" cy="495.37" r="3.45"/>
<circle cx="1344.06" cy="507.26" r="3.45"/>
<circle cx="1345.41" cy="517.69" r="3.45"/>
<circle cx="1347.92" cy="529" r="3.45"/>
<circle cx="1350.02" cy="541.08" r="3.45"/>
<circle cx="1353.59" cy="551.94" r="3.45"/>
<circle cx="1355.5" cy="562.13" r="3.45"/>
<circle cx="1358.65" cy="573.17" r="3.45"/>
<circle cx="1362.37" cy="585.18" r="3.45"/>
<circle cx="1365.25" cy="597.08" r="3.45"/>
<circle cx="1368.45" cy="609.43" r="3.45"/>
<circle cx="1371.55" cy="621.54" r="3.45"/>
<circle cx="1374.58" cy="633.33" r="3.45"/>
<circle cx="1377.52" cy="644.16" r="3.45"/>
<circle cx="1378.22" cy="654.09" r="3.45"/>
<circle cx="1381.17" cy="666.27" r="3.45"/>
<circle cx="1384.38" cy="675.77" r="3.45"/>
<circle cx="1387.26" cy="687.98" r="3.45"/>
<circle cx="1390.78" cy="699.28" r="3.45"/>
<circle cx="1395" cy="709.37" r="3.45"/>
<circle cx="1397.23" cy="719.25" r="3.45"/>
<circle cx="1401.33" cy="730.78" r="3.45"/>
<circle cx="1404.1" cy="740.38" r="3.45"/>
<circle cx="1406.81" cy="751.05" r="3.45"/>
<circle cx="1407.84" cy="760.75" r="3.45"/>
<circle cx="1411.87" cy="770.54" r="3.45"/>
<circle cx="1413.42" cy="780.68" r="3.45"/>
<circle cx="1415.7" cy="792.01" r="3.45"/>
<circle cx="1417.01" cy="801.48" r="3.45"/>
<circle cx="1417.18" cy="813.42" r="3.45"/>
<circle cx="1112.4" cy="23.74" r="3.45"/>
<circle cx="1113.84" cy="34.41" r="3.45"/>
<circle cx="1115.93" cy="46.34" r="3.45"/>
<circle cx="1118.82" cy="57.07" r="3.45"/>
<circle cx="1119.32" cy="67.15" r="3.45"/>
<circle cx="1124.06" cy="78.54" r="3.45"/>
<circle cx="1128.02" cy="88.84" r="3.45"/>
<circle cx="1140.57" cy="99.97" r="3.45"/>
<circle cx="1153.74" cy="110.04" r="3.45"/>
<circle cx="1166.32" cy="121.69" r="3.45"/>
<circle cx="1173.17" cy="131.22" r="3.45"/>
<circle cx="1181.35" cy="141.47" r="3.45"/>
<circle cx="1191.44" cy="153.64" r="3.45"/>
<circle cx="1202.35" cy="163.28" r="3.45"/>
<circle cx="1214.46" cy="173.83" r="3.45"/>
<circle cx="1220.94" cy="183.77" r="3.45"/>
<circle cx="1225.85" cy="194.29" r="3.45"/>
<circle cx="1230.76" cy="205.37" r="3.45"/>
<circle cx="1236.74" cy="217.61" r="3.45"/>
<circle cx="1242.06" cy="229.83" r="3.45"/>
<circle cx="1246.14" cy="240.14" r="3.45"/>
<circle cx="1252.62" cy="251.81" r="3.45"/>
<circle cx="1259.86" cy="262.57" r="3.45"/>
<circle cx="1267.92" cy="272.25" r="3.45"/>
<circle cx="1275.03" cy="282.44" r="3.45"/>
<circle cx="1282.34" cy="292.77" r="3.45"/>
<circle cx="1288.02" cy="303.35" r="3.45"/>
<circle cx="1293.47" cy="315.72" r="3.45"/>
<circle cx="1298.05" cy="327.5" r="3.45"/>
<circle cx="1302.91" cy="337.16" r="3.45"/>
<circle cx="1308.02" cy="348.28" r="3.45"/>
<circle cx="1311.56" cy="358.54" r="3.45"/>
<circle cx="1313.33" cy="368.7" r="3.45"/>
<circle cx="1316.48" cy="380.7" r="3.45"/>
<circle cx="1318.26" cy="390.28" r="3.45"/>
<circle cx="1321.43" cy="401.87" r="3.45"/>
<circle cx="1324.75" cy="413.91" r="3.45"/>
<circle cx="1328.69" cy="423.3" r="3.45"/>
<circle cx="1332.05" cy="433.56" r="3.45"/>
<circle cx="1335.46" cy="445.31" r="3.45"/>
<circle cx="1336.63" cy="454.83" r="3.45"/>
<circle cx="1340.16" cy="465.31" r="3.45"/>
<circle cx="1341.99" cy="475.39" r="3.45"/>
<circle cx="1344.38" cy="487.43" r="3.45"/>
<circle cx="1345.85" cy="499.24" r="3.45"/>
<circle cx="1349.52" cy="510.91" r="3.45"/>
<circle cx="1351.53" cy="521.12" r="3.45"/>
<circle cx="1351.89" cy="530.84" r="3.45"/>
<circle cx="1355.08" cy="542.93" r="3.45"/>
<circle cx="1356.2" cy="552.99" r="3.45"/>
<circle cx="1358.91" cy="563.02" r="3.45"/>
<circle cx="1361.53" cy="572.64" r="3.45"/>
<circle cx="1364.04" cy="584.49" r="3.45"/>
<circle cx="1367.12" cy="595.21" r="3.45"/>
<circle cx="1369.73" cy="605.12" r="3.45"/>
<circle cx="1373.28" cy="614.57" r="3.45"/>
<circle cx="1376.25" cy="625.33" r="3.45"/>
<circle cx="1377.89" cy="634.83" r="3.45"/>
<circle cx="1380.14" cy="644.22" r="3.45"/>
<circle cx="1383.65" cy="655.03" r="3.45"/>
<circle cx="1385.96" cy="666.1" r="3.45"/>
<circle cx="1389.83" cy="677.1" r="3.45"/>
<circle cx="1393.56" cy="689.24" r="3.45"/>
<circle cx="1395.35" cy="698.75" r="3.45"/>
<circle cx="1398.52" cy="708.33" r="3.45"/>
<circle cx="1400.5" cy="718" r="3.45"/>
<circle cx="1403.14" cy="729.22" r="3.45"/>
<circle cx="1406.81" cy="740.57" r="3.45"/>
<circle cx="1409.51" cy="750.63" r="3.45"/>
<circle cx="1410.97" cy="761.73" r="3.45"/>
<circle cx="1413.22" cy="771.28" r="3.45"/>
<circle cx="1415.59" cy="781.05" r="3.45"/>
<circle cx="1417.28" cy="791.25" r="3.45"/>
<circle cx="1418.5" cy="801.04" r="3.45"/>
<circle cx="1420.18" cy="811.23" r="3.45"/>
<circle cx="1113.83" cy="24.04" r="3.45"/>
<circle cx="1115.22" cy="35.12" r="3.45"/>
<circle cx="1119.7" cy="46.39" r="3.45"/>
<circle cx="1122.22" cy="56.62" r="3.45"/>
<circle cx="1123.52" cy="66.52" r="3.45"/>
<circle cx="1127.8" cy="78.23" r="3.45"/>
<circle cx="1133.59" cy="89.46" r="3.45"/>
<circle cx="1142.84" cy="99.39" r="3.45"/>
<circle cx="1159.77" cy="110.47" r="3.45"/>
<circle cx="1175.42" cy="121.93" r="3.45"/>
<circle cx="1182.77" cy="133.41" r="3.45"/>
<circle cx="1192.83" cy="145.26" r="3.45"/>
<circle cx="1201.87" cy="157.49" r="3.45"/>
<circle cx="1219.95" cy="168.92" r="3.45"/>
<circle cx="1226.43" cy="181.22" r="3.45"/>
<circle cx="1230.9" cy="192.08" r="3.45"/>
<circle cx="1234.07" cy="202.24" r="3.45"/>
<circle cx="1238.22" cy="214.39" r="3.45"/>
<circle cx="1244.21" cy="224.57" r="3.45"/>
<circle cx="1247.26" cy="234.4" r="3.45"/>
<circle cx="1252.98" cy="244.17" r="3.45"/>
<circle cx="1259.27" cy="255.17" r="3.45"/>
<circle cx="1268.15" cy="267.27" r="3.45"/>
<circle cx="1277.01" cy="277.71" r="3.45"/>
<circle cx="1286.56" cy="289.96" r="3.45"/>
<circle cx="1295.87" cy="301.98" r="3.45"/>
<circle cx="1299.47" cy="312.11" r="3.45"/>
<circle cx="1305.31" cy="322.98" r="3.45"/>
<circle cx="1310.58" cy="334.14" r="3.45"/>
<circle cx="1315.84" cy="345.48" r="3.45"/>
<circle cx="1318.01" cy="356.91" r="3.45"/>
<circle cx="1321.06" cy="366.49" r="3.45"/>
<circle cx="1323.42" cy="377.96" r="3.45"/>
<circle cx="1324.74" cy="387.84" r="3.45"/>
<circle cx="1328.19" cy="398.7" r="3.45"/>
<circle cx="1330.13" cy="409.67" r="3.45"/>
<circle cx="1332.48" cy="419.38" r="3.45"/>
<circle cx="1336.81" cy="430.68" r="3.45"/>
<circle cx="1339.47" cy="441.77" r="3.45"/>
<circle cx="1341.79" cy="451.86" r="3.45"/>
<circle cx="1344.96" cy="463.51" r="3.45"/>
<circle cx="1346" cy="473.32" r="3.45"/>
<circle cx="1346.53" cy="485.47" r="3.45"/>
<circle cx="1348.41" cy="495.08" r="3.45"/>
<circle cx="1351.3" cy="506.88" r="3.45"/>
<circle cx="1353.56" cy="517.89" r="3.45"/>
<circle cx="1356.27" cy="527.7" r="3.45"/>
<circle cx="1359.24" cy="537.91" r="3.45"/>
<circle cx="1361.1" cy="550.18" r="3.45"/>
<circle cx="1364.36" cy="561.58" r="3.45"/>
<circle cx="1367.45" cy="572.75" r="3.45"/>
<circle cx="1369.29" cy="584.25" r="3.45"/>
<circle cx="1372.06" cy="594.11" r="3.45"/>
<circle cx="1373.94" cy="605.08" r="3.45"/>
<circle cx="1377.71" cy="617.11" r="3.45"/>
<circle cx="1379.24" cy="627.39" r="3.45"/>
<circle cx="1381.79" cy="638.09" r="3.45"/>
<circle cx="1384.01" cy="650.47" r="3.45"/>
<circle cx="1388.32" cy="662.58" r="3.45"/>
<circle cx="1389.31" cy="672.88" r="3.45"/>
<circle cx="1393.22" cy="685.06" r="3.45"/>
<circle cx="1396.53" cy="694.47" r="3.45"/>
<circle cx="1399.06" cy="705.5" r="3.45"/>
<circle cx="1402.18" cy="717.42" r="3.45"/>
<circle cx="1407.06" cy="728.95" r="3.45"/>
<circle cx="1408.71" cy="740.15" r="3.45"/>
<circle cx="1411.01" cy="750.37" r="3.45"/>
<circle cx="1412.88" cy="762.64" r="3.45"/>
<circle cx="1415.48" cy="773.7" r="3.45"/>
<circle cx="1417.68" cy="785.8" r="3.45"/>
<circle cx="1419.89" cy="797.94" r="3.45"/>
<circle cx="1421.9" cy="809.4" r="3.45"/>
</g>
<polyline points="1109,28.93 1113.7,48.89 1117.6,68.86 1124.6,88.82 1142.7,108.78 1158.5,128.75 1178.4,148.71 1194.1,168.67 1206.4,188.64 1218.5,208.6 1230.8,228.56 1242.5,248.52 1255.7,268.49 1265.8,288.45 1275.4,308.41 1283.9,328.38 1292.4,348.34 1299.2,368.3 1306.2,388.27 1312.6,408.23 1319.6,428.19 1327.4,448.15 1333.8,468.12 1337,488.08 1341.6,508.04 1346.5,528.01 1351.2,547.97 1356.1,567.93 1360.8,587.9 1365.6,607.86 1370.5,627.82 1375.2,647.78 1379.9,667.75 1385.8,687.71 1392.2,707.67 1398.6,727.64 1403.9,747.6 1408.1,767.56 1412.4,787.53 1416.2,807.49" fill="none" stroke="#0000ff" stroke-width="2.8" stroke-linejoin="round" stroke-linecap="square"/>
<g fill="#0000ff">
<circle cx="1109" cy="28.93" r="6.2"/>
<circle cx="1113.7" cy="48.89" r="6.2"/>
<circle cx="1117.6" cy="68.86" r="6.2"/>
<circle cx="1124.6" cy="88.82" r="6.2"/>
<circle cx="1142.7" cy="108.78" r="6.2"/>
<circle cx="1158.5" cy="128.75" r="6.2"/>
<circle cx="1178.4" cy="148.71" r="6.2"/>
<circle cx="1194.1" cy="168.67" r="6.2"/>
<circle cx="1206.4" cy="188.64" r="6.2"/>
<circle cx="1218.5" cy="208.6" r="6.2"/>
<circle cx="1230.8" cy="228.56" r="6.2"/>
<circle cx="1242.5" cy="248.52" r="6.2"/>
<circle cx="1255.7" cy="268.49" r="6.2"/>
<circle cx="1265.8" cy="288.45" r="6.2"/>
<circle cx="1275.4" cy="308.41" r="6.2"/>
<circle cx="1283.9" cy="328.38" r="6.2"/>
<circle cx="1292.4" cy="348.34" r="6.2"/>
<circle cx="1299.2" cy="368.3" r="6.2"/>
<circle cx="1306.2" cy="388.27" r="6.2"/>
<circle cx="1312.6" cy="408.23" r="6.2"/>
<circle cx="1319.6" cy="428.19" r="6.2"/>
<circle cx="1327.4" cy="448.15" r="6.2"/>
<circle cx="1333.8" cy="468.12" r="6.2"/>
<circle cx="1337" cy="488.08" r="6.2"/>
<circle cx="1341.6" cy="508.04" r="6.2"/>
<circle cx="1346.5" cy="528.01" r="6.2"/>
<circle cx="1351.2" cy="547.97" r="6.2"/>
<circle cx="1356.1" cy="567.93" r="6.2"/>
<circle cx="1360.8" cy="587.9" r="6.2"/>
<circle cx="1365.6" cy="607.86" r="6.2"/>
<circle cx="1370.5" cy="627.82" r="6.2"/>
<circle cx="1375.2" cy="647.78" r="6.2"/>
<circle cx="1379.9" cy="667.75" r="6.2"/>
<circle cx="1385.8" cy="687.71" r="6.2"/>
<circle cx="1392.2" cy="707.67" r="6.2"/>
<circle cx="1398.6" cy="727.64" r="6.2"/>
<circle cx="1403.9" cy="747.6" r="6.2"/>
<circle cx="1408.1" cy="767.56" r="6.2"/>
<circle cx="1412.4" cy="787.53" r="6.2"/>
<circle cx="1416.2" cy="807.49" r="6.2"/>
</g>
<polyline points="1137.5,18.95 1138.4,22.94 1139.3,26.94 1140.2,30.93 1141,34.92 1141.8,38.91 1142.5,42.91 1143.6,48.89 1145.6,58.88 1148.2,68.86 1151.4,78.84 1157.8,88.82 1166.1,98.8 1175.3,108.78 1183.9,118.77 1197.9,138.73 1210,158.69 1222.7,178.65 1238.2,198.62 1263.1,218.58 1286,268.49 1310.4,318.39 1348.7,418.21 1377.3,518.02 1402.4,617.84 1426.2,717.66 1443.6,817.47" fill="none" stroke="#ff0000" stroke-width="8.5" stroke-linejoin="round" stroke-linecap="square"/>
<g fill="#ff0000">
<circle cx="1137.5" cy="18.95" r="6.2"/>
<circle cx="1138.4" cy="22.94" r="6.2"/>
<circle cx="1139.3" cy="26.94" r="6.2"/>
<circle cx="1140.2" cy="30.93" r="6.2"/>
<circle cx="1141" cy="34.92" r="6.2"/>
<circle cx="1141.8" cy="38.91" r="6.2"/>
<circle cx="1142.5" cy="42.91" r="6.2"/>
<circle cx="1143.6" cy="48.89" r="6.2"/>
<circle cx="1145.6" cy="58.88" r="6.2"/>
<circle cx="1148.2" cy="68.86" r="6.2"/>
<circle cx="1151.4" cy="78.84" r="6.2"/>
<circle cx="1157.8" cy="88.82" r="6.2"/>
<circle cx="1166.1" cy="98.8" r="6.2"/>
<circle cx="1175.3" cy="108.78" r="6.2"/>
<circle cx="1183.9" cy="118.77" r="6.2"/>
<circle cx="1197.9" cy="138.73" r="6.2"/>
<circle cx="1210" cy="158.69" r="6.2"/>
<circle cx="1222.7" cy="178.65" r="6.2"/>
<circle cx="1238.2" cy="198.62" r="6.2"/>
<circle cx="1263.1" cy="218.58" r="6.2"/>
<circle cx="1286" cy="268.49" r="6.2"/>
<circle cx="1310.4" cy="318.39" r="6.2"/>
<circle cx="1348.7" cy="418.21" r="6.2"/>
<circle cx="1377.3" cy="518.02" r="6.2"/>
<circle cx="1402.4" cy="617.84" r="6.2"/>
<circle cx="1426.2" cy="717.66" r="6.2"/>
<circle cx="1443.6" cy="817.47" r="6.2"/>
</g>
<polyline points="1120.5,18.95 1121,22.94 1121.5,26.94 1122,30.93 1122.6,34.92 1123.2,38.91 1123.8,42.91 1124.8,48.89 1126,58.88 1127,68.86 1127.6,78.84 1129.4,88.82 1130.3,98.8 1137.5,108.78 1145.4,118.77 1162.3,138.73 1176.7,158.69 1188.3,178.65 1199,198.62 1208.5,218.58 1244.2,268.49 1278.6,318.39 1319.6,418.21 1354,518.02 1384.8,617.84 1406,717.66 1425.6,817.47" fill="none" stroke="#80561a" stroke-width="3.45" stroke-linejoin="round" stroke-linecap="square"/>
<polyline points="1120.5,18.95 1121,22.94 1121.5,26.94 1122,30.93 1122.6,34.92 1123.2,38.91 1123.8,42.91 1124.8,48.89 1126,58.88 1127,68.86 1127.6,78.84 1129.4,88.82 1130.3,98.8 1137.5,108.78 1145.4,118.77 1162.3,138.73 1176.7,158.69 1188.3,178.65 1199,198.62 1208.5,218.58 1244.2,268.49 1278.6,318.39 1319.6,418.21 1354,518.02 1384.8,617.84 1406,717.66 1425.6,817.47" fill="none" stroke="#ffa500" stroke-width="2.7" stroke-linejoin="round" stroke-linecap="square"/>
<g fill="#ffa500" stroke="#a87420" stroke-width="0.5">
<circle cx="1120.5" cy="18.95" r="6"/>
<circle cx="1121" cy="22.94" r="6"/>
<circle cx="1121.5" cy="26.94" r="6"/>
<circle cx="1122" cy="30.93" r="6"/>
<circle cx="1122.6" cy="34.92" r="6"/>
<circle cx="1123.2" cy="38.91" r="6"/>
<circle cx="1123.8" cy="42.91" r="6"/>
<circle cx="1124.8" cy="48.89" r="6"/>
<circle cx="1126" cy="58.88" r="6"/>
<circle cx="1127" cy="68.86" r="6"/>
<circle cx="1127.6" cy="78.84" r="6"/>
<circle cx="1129.4" cy="88.82" r="6"/>
<circle cx="1130.3" cy="98.8" r="6"/>
<circle cx="1137.5" cy="108.78" r="6"/>
<circle cx="1145.4" cy="118.77" r="6"/>
<circle cx="1162.3" cy="138.73" r="6"/>
<circle cx="1176.7" cy="158.69" r="6"/>
<circle cx="1188.3" cy="178.65" r="6"/>
<circle cx="1199" cy="198.62" r="6"/>
<circle cx="1208.5" cy="218.58" r="6"/>
<circle cx="1244.2" cy="268.49" r="6"/>
<circle cx="1278.6" cy="318.39" r="6"/>
<circle cx="1319.6" cy="418.21" r="6"/>
<circle cx="1354" cy="518.02" r="6"/>
<circle cx="1384.8" cy="617.84" r="6"/>
<circle cx="1406" cy="717.66" r="6"/>
<circle cx="1425.6" cy="817.47" r="6"/>
</g>
<polyline points="1125.3,18.95 1125.9,22.94 1126.5,26.94 1127.1,30.93 1127.8,34.92 1128.5,38.91 1129.2,42.91 1130.5,48.89 1141.5,58.88 1149.5,68.86 1160.7,78.84 1173.6,88.82 1188.7,98.8 1198.3,108.78 1207.6,118.77 1221.4,138.73 1234.4,158.69 1247.4,178.65 1259.5,198.62 1268,218.58 1301.5,268.49 1312.6,318.39 1342.7,418.21 1368.4,518.02 1393.2,617.84 1417.2,717.66 1438.4,817.47" fill="none" stroke="#008000" stroke-width="2.8" stroke-linejoin="round" stroke-linecap="square"/>
<g fill="#008000">
<circle cx="1125.3" cy="18.95" r="6.2"/>
<circle cx="1125.9" cy="22.94" r="6.2"/>
<circle cx="1126.5" cy="26.94" r="6.2"/>
<circle cx="1127.1" cy="30.93" r="6.2"/>
<circle cx="1127.8" cy="34.92" r="6.2"/>
<circle cx="1128.5" cy="38.91" r="6.2"/>
<circle cx="1129.2" cy="42.91" r="6.2"/>
<circle cx="1130.5" cy="48.89" r="6.2"/>
<circle cx="1141.5" cy="58.88" r="6.2"/>
<circle cx="1149.5" cy="68.86" r="6.2"/>
<circle cx="1160.7" cy="78.84" r="6.2"/>
<circle cx="1173.6" cy="88.82" r="6.2"/>
<circle cx="1188.7" cy="98.8" r="6.2"/>
<circle cx="1198.3" cy="108.78" r="6.2"/>
<circle cx="1207.6" cy="118.77" r="6.2"/>
<circle cx="1221.4" cy="138.73" r="6.2"/>
<circle cx="1234.4" cy="158.69" r="6.2"/>
<circle cx="1247.4" cy="178.65" r="6.2"/>
<circle cx="1259.5" cy="198.62" r="6.2"/>
<circle cx="1268" cy="218.58" r="6.2"/>
<circle cx="1301.5" cy="268.49" r="6.2"/>
<circle cx="1312.6" cy="318.39" r="6.2"/>
<circle cx="1342.7" cy="418.21" r="6.2"/>
<circle cx="1368.4" cy="518.02" r="6.2"/>
<circle cx="1393.2" cy="617.84" r="6.2"/>
<circle cx="1417.2" cy="717.66" r="6.2"/>
<circle cx="1438.4" cy="817.47" r="6.2"/>
</g>
<polyline points="1117.5,19.93 1118,22.02 1118.5,24.24 1119,26.58 1119.7,29.09 1120.4,31.81 1121.1,34.78 1121.9,38.05 1122.8,41.71 1123.8,45.84 1124.8,50.51 1125.6,55.88 1126.9,62.07 1128.8,69.26 1135.5,77.64 1141.7,87.62 1148.3,99.4 1156.5,113.57 1166.5,130.34 1178.4,150.31 1193.6,174.46 1207.5,203.21 1224.4,237.94 1244.2,279.87 1272.8,330.17 1299.4,390.46 1327.4,463.13 1358.6,549.97 1382.6,653.97 1415.5,777.94" fill="none" stroke="#ff00ff" stroke-width="2.8" stroke-linejoin="round" stroke-linecap="square"/>
<g fill="#ff00ff">
<circle cx="1117.5" cy="19.93" r="6.2"/>
<circle cx="1118" cy="22.02" r="6.2"/>
<circle cx="1118.5" cy="24.24" r="6.2"/>
<circle cx="1119" cy="26.58" r="6.2"/>
<circle cx="1119.7" cy="29.09" r="6.2"/>
<circle cx="1120.4" cy="31.81" r="6.2"/>
<circle cx="1121.1" cy="34.78" r="6.2"/>
<circle cx="1121.9" cy="38.05" r="6.2"/>
<circle cx="1122.8" cy="41.71" r="6.2"/>
<circle cx="1123.8" cy="45.84" r="6.2"/>
<circle cx="1124.8" cy="50.51" r="6.2"/>
<circle cx="1125.6" cy="55.88" r="6.2"/>
<circle cx="1126.9" cy="62.07" r="6.2"/>
<circle cx="1128.8" cy="69.26" r="6.2"/>
<circle cx="1135.5" cy="77.64" r="6.2"/>
<circle cx="1141.7" cy="87.62" r="6.2"/>
<circle cx="1148.3" cy="99.4" r="6.2"/>
<circle cx="1156.5" cy="113.57" r="6.2"/>
<circle cx="1166.5" cy="130.34" r="6.2"/>
<circle cx="1178.4" cy="150.31" r="6.2"/>
<circle cx="1193.6" cy="174.46" r="6.2"/>
<circle cx="1207.5" cy="203.21" r="6.2"/>
<circle cx="1224.4" cy="237.94" r="6.2"/>
<circle cx="1244.2" cy="279.87" r="6.2"/>
<circle cx="1272.8" cy="330.17" r="6.2"/>
<circle cx="1299.4" cy="390.46" r="6.2"/>
<circle cx="1327.4" cy="463.13" r="6.2"/>
<circle cx="1358.6" cy="549.97" r="6.2"/>
<circle cx="1382.6" cy="653.97" r="6.2"/>
<circle cx="1415.5" cy="777.94" r="6.2"/>
</g>
</g>
<rect x="1072.4" y="19.4" width="402.1" height="795" fill="none" stroke="#000" stroke-width="1.33"/>
<g stroke="#000" stroke-width="1.33">
<line x1="1076.5" y1="814.4" x2="1076.5" y2="820.7"/>
<line x1="1135.5" y1="814.4" x2="1135.5" y2="820.7"/>
<line x1="1195.5" y1="814.4" x2="1195.5" y2="820.7"/>
<line x1="1255.5" y1="814.4" x2="1255.5" y2="820.7"/>
<line x1="1315.5" y1="814.4" x2="1315.5" y2="820.7"/>
<line x1="1375.5" y1="814.4" x2="1375.5" y2="820.7"/>
<line x1="1435.5" y1="814.4" x2="1435.5" y2="820.7"/>
<line x1="1066.1" y1="19.4" x2="1072.4" y2="19.4"/>
<line x1="1066.1" y1="68.5" x2="1072.4" y2="68.5"/>
<line x1="1066.1" y1="118.5" x2="1072.4" y2="118.5"/>
<line x1="1066.1" y1="168.5" x2="1072.4" y2="168.5"/>
<line x1="1066.1" y1="218.5" x2="1072.4" y2="218.5"/>
<line x1="1066.1" y1="268.5" x2="1072.4" y2="268.5"/>
<line x1="1066.1" y1="318.5" x2="1072.4" y2="318.5"/>
<line x1="1066.1" y1="368.5" x2="1072.4" y2="368.5"/>
<line x1="1066.1" y1="418.5" x2="1072.4" y2="418.5"/>
<line x1="1066.1" y1="468.5" x2="1072.4" y2="468.5"/>
<line x1="1066.1" y1="518.5" x2="1072.4" y2="518.5"/>
<line x1="1066.1" y1="567.5" x2="1072.4" y2="567.5"/>
<line x1="1066.1" y1="617.5" x2="1072.4" y2="617.5"/>
<line x1="1066.1" y1="667.5" x2="1072.4" y2="667.5"/>
<line x1="1066.1" y1="717.5" x2="1072.4" y2="717.5"/>
<line x1="1066.1" y1="767.5" x2="1072.4" y2="767.5"/>
</g>
<g font-size="16.88" text-anchor="middle">
<text transform="translate(1074.5,850.6) rotate(-45)" x="0" y="0" dy="0.36em">1023</text>
<text transform="translate(1134.4,850.6) rotate(-45)" x="0" y="0" dy="0.36em">1024</text>
<text transform="translate(1194.3,850.6) rotate(-45)" x="0" y="0" dy="0.36em">1025</text>
<text transform="translate(1254.2,850.6) rotate(-45)" x="0" y="0" dy="0.36em">1026</text>
<text transform="translate(1314.1,850.6) rotate(-45)" x="0" y="0" dy="0.36em">1027</text>
<text transform="translate(1374,850.6) rotate(-45)" x="0" y="0" dy="0.36em">1028</text>
<text transform="translate(1433.9,850.6) rotate(-45)" x="0" y="0" dy="0.36em">1029</text>
</g>
</g>
<text x="179.3" y="871.5" font-size="22.92" font-weight="bold">Temperature (</text>
<text x="362.4" y="861.9" font-size="13.8" font-style="italic">o</text>
<text x="372.4" y="871.5" font-size="23.6" font-style="italic">C</text>
<text x="389.3" y="871.5" font-size="22.92" font-weight="bold">)</text>
<text x="780.9" y="869.8" font-size="22.3" font-weight="bold" text-anchor="middle">Salinity</text>
<text x="1272.3" y="895.6" font-size="22.72" font-weight="bold" text-anchor="middle">Density (kg m-3)</text>
<text transform="translate(30,417.8) rotate(-90)" font-size="22.95" font-weight="bold" text-anchor="middle">Depth (m)</text>
<g font-size="22.55" font-weight="bold">
<text x="1524.6" y="36.9">Comparison Date: 2025-05-16</text>
<text x="1524.6" y="89.9">Glider: sp071</text>
<text x="1524.6" y="116.6">Profiles: 6</text>
<text x="1524.6" y="143.2">First: 2025-05-16 00:51:15</text>
<text x="1524.6" y="169.8">Last: 2025-05-16 16:16:00</text>
<text x="1524.6" y="196.5">Method: Nearest-Neighbor</text>
</g>
<text x="248.4" y="917.6" font-size="17.36" font-style="italic" xml:space="preserve">Ocean Heat Content (kJ/cm^2) - Glider: 24.3873,  RTOFS: 1.9836,  RTOFS (Parallel): 12.3131,  ESPC: N/A,  CMEMS: 13.3092,</text>
<g id="map">
<defs><clipPath id="cpm"><rect x="1563.3" y="273.2" width="404" height="286.9"/></clipPath></defs>
<rect x="1564" y="273.9" width="402.6" height="285.5" fill="#98b7e2" stroke="#000" stroke-width="1.33"/>
<g clip-path="url(#cpm)">
<path d="M1558.6 268.6 L1698.8 268.6 L1698.8 274.1 L1704.2 275 L1708.8 278.7 L1710.6 284.1 L1710.2 290.5 L1708.8 295 L1704.2 295.9 L1699.7 298.7 L1695.1 302.3 L1691.5 306 L1688.8 309.6 L1686.5 312.3 L1684.2 310.5 L1680.6 309.6 L1676 310.5 L1672.4 311.4 L1667.8 313.2 L1664.2 316 L1660.6 319.6 L1657.8 323.2 L1655.6 327.8 L1654.6 332.3 L1652.8 331.4 L1649.6 331 L1645.1 331.4 L1640.5 332.3 L1636.9 334.2 L1633.3 337.8 L1630.1 342.4 L1627.8 346.9 L1631.9 340 L1627.8 345.5 L1625.5 350 L1622.3 353.7 L1618.7 356.8 L1614.2 360.5 L1609.6 363.7 L1604.1 366.8 L1599.6 370.5 L1596 374.1 L1591.4 378.2 L1588.7 382.8 L1585.9 386.4 L1583.7 391 L1581.4 395.5 L1579.1 400.5 L1577.3 405.5 L1576.4 410.1 L1576.4 415.5 L1577.3 420.1 L1576.8 415 L1577.8 422.3 L1579.1 429.6 L1580.9 436.8 L1584.1 444.1 L1587.8 453.2 L1593.2 462.3 L1597.3 469.6 L1596 475.1 L1597.8 483.3 L1600.5 491.4 L1596.9 485 L1600.5 492.3 L1603.2 499.6 L1605.5 505 L1607.3 511.4 L1607.8 518.7 L1607.3 526 L1606.4 533.2 L1605.1 540.5 L1603.7 546.9 L1601 553.3 L1597.8 557.8 L1595 558.9 L1591.4 559.2 L1585.9 557.8 L1583.2 552.3 L1582.3 546.9 L1579.6 541.4 L1575 537.8 L1570.5 536 L1567.7 530.5 L1566.4 524.1 L1565 520.5 L1566.8 516.9 L1568.7 516.4 L1564.1 515.9 L1558.6 515.9 Z" fill="#d2b48c" stroke="#000" stroke-width="1.9" stroke-linejoin="round"/>
<path d="M1700.6 277.7 L1704.7 280.3 L1707.2 283.7 L1707.9 289.4 L1705.3 292.1 L1700.2 294.3 L1695.7 297 L1691.5 300 L1689.2 298.2 L1692 295 L1695.6 292.3 L1699.2 289.6 L1702.9 283.2 L1701.7 280 Z" fill="#98b7e2" stroke="none"/>
<path d="M1585 510.5 L1591.4 504.6 L1595 508.7 L1594.1 514.1 L1591.4 516.9 L1586.9 513.2 Z" fill="#b4b4b4"/>
<path d="M1579.6 485 L1581.4 485.9 L1581.8 488.6 L1580.5 487.3 Z" fill="#b4b4b4"/>
<path d="M1579.6 498.7 L1581.2 498.2 L1581.4 500.9 L1580 501.4 Z" fill="#b4b4b4"/>
<path d="M1571.4 467.3 L1573.7 467.8 L1572.7 469.6 Z" fill="#b4b4b4"/>
<path d="M1579.1 485.1 L1581.4 485.5 L1581.8 488.7 Z" fill="#b4b4b4"/>
<g fill="none" stroke="#98b7e2" stroke-width="1.4" stroke-linejoin="round">
<path d="M1599.6 274.1 L1600.5 276.8 L1598.7 279.6 L1599.6 282.3 L1603.2 285 L1606 288.7 L1607.8 292.3 L1607.8 296.9 L1611.4 300.5 L1611.9 305 L1611 309.6 L1614.2 313.2 L1616 317.8 L1618.7 323.2 L1620.5 328.7 L1624.2 333.3 L1627.8 337.8 L1629.2 342.4"/>
<path d="M1623.3 274.1 L1627.8 280.5 L1631.4 286.8 L1636.9 291.4 L1638.3 295 L1635.1 298.7 L1635.5 304.1 L1636.9 308.7 L1642.4 313.2 L1646.9 316.9 L1651.5 319.1 L1654.2 321.4 L1654.6 324.2"/>
<path d="M1670.6 274.1 L1674.2 276.8 L1678.8 278.2 L1682.4 276.4"/>
<path d="M1564.1 294.1 L1573.2 296.9 L1575.9 301.4 L1576.8 308.7 L1577.8 315.1 L1579.6 320.5 L1584.1 325.1 L1586.9 330.5 L1593.2 335.1 L1597.8 340.5 L1601.4 343.3 L1606.9 342.4 L1613.2 345.1 L1618.7 347.8 L1622.3 349.2"/>
<path d="M1604.1 343.3 L1606.9 346.9 L1608.7 350"/>
<path d="M1597.8 340 L1601.4 342.7 L1606 342.7 L1607.8 345.5 L1609.6 350 L1610.5 354.6"/>
<path d="M1608.7 341.8 L1614.2 344.6 L1618.7 347.3 L1623.3 350"/>
<path d="M1564.1 386.4 L1568.7 390.1 L1572.3 394.6 L1575 398.2"/>
<path d="M1577.8 423.2 L1572.3 424.1 L1571.8 429.6 L1573.7 435 L1573.2 440.5 L1570.9 444.6 L1571.8 449.6 L1574.6 454.1 L1578.2 457.8 L1579.6 462.3 L1584.6 464.1 L1587.8 469.6 L1590.5 476.9 L1591.4 482.3 L1588.7 482.8 L1584.6 478.7"/>
<path d="M1571.4 422.4 L1575.9 423.3"/>
</g>
<g fill="none" stroke="#000" stroke-width="1.4" stroke-linejoin="round">
<path d="M1564.1 296.4 L1585 297 L1586.9 299.1 L1590 300.9 L1591.4 306.4 L1616.9 306.9 L1640.5 331.9"/>
<path d="M1564.1 340.5 L1568.7 350 L1566.8 344.6 L1570.5 349.1 L1574.6 353.7 L1576.8 360 L1579.6 366.4 L1582.8 371.9 L1585 377.3 L1588.7 380"/>
<path d="M1564.1 412.3 L1569.6 413.3 L1574.6 414.6 L1576.8 415.5"/>
</g>
<g fill="none" stroke="#000" stroke-linejoin="round" stroke-linecap="round">
<path d="M1682.4 274.7 L1689.7 275.9 L1697 275.5 L1700.6 276.6" stroke-width="1.6"/>
<path d="M1697.7 276.4 L1697 280.5 L1698.1 284.1" stroke-width="2.2"/>
<path d="M1701.5 278.7 L1702.9 283.2 L1700.6 286.8 L1697 289.8 L1693.3 291.2 L1689.7 289.4" stroke-width="1.6"/>
<path d="M1676.5 288.8 L1681 290.3 L1685.1 288.2 L1689.2 289.4" stroke-width="3.4"/>
<path d="M1683.8 292.3 L1686.5 294.3 L1684.7 297.3 L1686.5 299.4 L1690.6 300" stroke-width="3"/>
<path d="M1676.5 300.3 L1679.2 302.1 L1682.9 301.6 L1687.4 299.8" stroke-width="2.4"/>
<path d="M1673.3 310.5 L1680.6 307.8 L1686 306 L1688.8 308.7 L1686.5 311.9" stroke-width="2.2"/>
<path d="M1590 369.1 L1591.9 372.8 L1595.5 370 L1597.8 371.9 L1600.5 369.1 L1604.1 367.3" stroke-width="3"/>
<path d="M1609.6 360.9 L1613.2 360.5 L1617.8 357.3 L1621.4 354.6 L1625.1 350.9 L1625.5 346.4" stroke-width="2.4"/>
<path d="M1582.8 383.7 L1580.5 388.2 L1579.6 393.7 L1577.8 399.2 L1576.1 404.6 L1575.7 409.2" stroke-width="3.4"/>
<path d="M1573.2 401.9 L1575.5 403.7" stroke-width="2"/>
<path d="M1590.9 467.8 L1593.2 473.2 L1596 474.2 L1595 478.7 L1598.7 486.9 L1601.9 496.9" stroke-width="3"/>
<path d="M1583.2 551.9 L1585 555.1 L1588.7 557.8 L1593.2 558.7 L1597.3 557.6 L1600.5 553.7" stroke-width="4"/>
<path d="M1604.6 540.5 L1603.2 547.8 L1601 553.3" stroke-width="3"/>
<path d="M1582.3 544.2 L1586.4 544.6" stroke-width="3"/>
<path d="M1597.8 485.9 L1601 493.2 L1603.7 500.5 L1602.3 503.2 L1606 505.9 L1607.6 511.4 L1608 518.7 L1607.4 526 L1606.5 533.2 L1605.2 540.5 L1604 546.9 L1601.2 553.3 L1598 557.8 L1595 558.9 L1591.4 559.2 L1586.4 557.8 L1583.4 552.5 L1585.9 545.1 L1582.5 546.9 L1579.8 541.6 L1575.2 538 L1570.7 536.1 L1567.9 530.7 L1566.6 524.3 L1565.2 520.7 L1567 517 L1569.1 516.4" stroke-width="2.2"/>
<path d="M1630.5 515.9 L1634.2 518.9 L1637.8 521.6 L1642.4 519.8 L1646.9 518.9 L1651.5 517.9 L1655.6 517" stroke-width="2.7"/>
<path d="M1640.1 512.3 L1641.5 515.9 L1643.7 517.8" stroke-width="2.9"/>
<path d="M1643.7 501.8 L1649.6 505.5 L1655.1 507.9" stroke-width="2"/>
<path d="M1655.1 512.3 L1657.8 510.5 L1662.4 510 L1667.8 513.4 L1672.4 517.9 L1676.5 520.7 L1675.6 525 L1672.4 527.8 L1671.5 532.3 L1670.8 536.9 L1667.7 533.7" stroke-width="3.1"/>
<path d="M1655.6 512.3 L1656.9 516.9 L1657.8 520.9" stroke-width="2.5"/>
<path d="M1648.7 508.2 L1649.6 509.6" stroke-width="2"/>
<path d="M1662.8 526.4 L1663.5 528.2" stroke-width="2"/>
<path d="M1663.7 531 L1664.2 532.3" stroke-width="1.7"/>
<path d="M1625.5 539.6 L1624.6 541.9 L1625.1 544.6" stroke-width="2.2"/>
<path d="M1626.9 548.2 L1627.8 552.8" stroke-width="1"/>
<path d="M1655.1 537.8 L1657.4 540.5 L1659.7 543.7 L1658.3 547.3 L1654.6 548" stroke-width="2.5"/>
<path d="M1650.1 550.7 L1648.7 554.2 L1650.6 557.8 L1653.7 558.9 L1652.8 555.1 L1650.6 551.4" stroke-width="2.9"/>
<path d="M1663.3 558 L1668.8 556.2 L1675.1 554.3 L1679.7 547.1 L1682.4 545.2 L1686 548.9 L1691.5 552.5 L1695.6 556.2 L1695.1 558.9" stroke-width="2.4"/>
</g>
<path d="M1945.5 373.6 L1948.5 372.6 L1951.5 370.9" fill="none" stroke="#000" stroke-width="2.2" stroke-linecap="round"/>
</g>
<g stroke="#000" stroke-width="1.3">
<circle cx="1649.6" cy="380.6" r="3.7" fill="#ffffff"/>
<circle cx="1651.9" cy="380.2" r="3.7" fill="#ffffff"/>
<circle cx="1654.2" cy="379.9" r="3.7" fill="#ffffff"/>
<circle cx="1656.4" cy="379.8" r="3.7" fill="#ffffff"/>
<circle cx="1658.7" cy="379.8" r="3.7" fill="#ffffff"/>
<circle cx="1660.6" cy="379.8" r="3.7" fill="#ffffff"/>
<circle cx="1664.7" cy="380.5" r="3.9" fill="#ff0000"/>
</g>
<g stroke="#000" stroke-width="3.1">
<line x1="1587.5" y1="559.4" x2="1587.5" y2="568.8"/>
<line x1="1587.5" y1="273.9" x2="1587.5" y2="264.5"/>
<line x1="1654.2" y1="559.4" x2="1654.2" y2="568.8"/>
<line x1="1654.2" y1="273.9" x2="1654.2" y2="264.5"/>
<line x1="1721" y1="559.4" x2="1721" y2="568.8"/>
<line x1="1721" y1="273.9" x2="1721" y2="264.5"/>
<line x1="1787.8" y1="559.4" x2="1787.8" y2="568.8"/>
<line x1="1787.8" y1="273.9" x2="1787.8" y2="264.5"/>
<line x1="1854.5" y1="559.4" x2="1854.5" y2="568.8"/>
<line x1="1854.5" y1="273.9" x2="1854.5" y2="264.5"/>
<line x1="1921.2" y1="559.4" x2="1921.2" y2="568.8"/>
<line x1="1921.2" y1="273.9" x2="1921.2" y2="264.5"/>
<line x1="1564" y1="509.1" x2="1554.6" y2="509.1"/>
<line x1="1966.6" y1="509.1" x2="1976" y2="509.1"/>
<line x1="1564" y1="433.2" x2="1554.6" y2="433.2"/>
<line x1="1966.6" y1="433.2" x2="1976" y2="433.2"/>
<line x1="1564" y1="354.9" x2="1554.6" y2="354.9"/>
<line x1="1966.6" y1="354.9" x2="1976" y2="354.9"/>
<line x1="1564" y1="273.9" x2="1554.6" y2="273.9"/>
<line x1="1966.6" y1="273.9" x2="1976" y2="273.9"/>
</g>
<g stroke="#000" stroke-width="1.5">
<line x1="1565.2" y1="559.4" x2="1565.2" y2="562.4"/>
<line x1="1565.2" y1="273.9" x2="1565.2" y2="270.9"/>
<line x1="1609.8" y1="559.4" x2="1609.8" y2="562.4"/>
<line x1="1609.8" y1="273.9" x2="1609.8" y2="270.9"/>
<line x1="1632" y1="559.4" x2="1632" y2="562.4"/>
<line x1="1632" y1="273.9" x2="1632" y2="270.9"/>
<line x1="1676.5" y1="559.4" x2="1676.5" y2="562.4"/>
<line x1="1676.5" y1="273.9" x2="1676.5" y2="270.9"/>
<line x1="1698.8" y1="559.4" x2="1698.8" y2="562.4"/>
<line x1="1698.8" y1="273.9" x2="1698.8" y2="270.9"/>
<line x1="1743.2" y1="559.4" x2="1743.2" y2="562.4"/>
<line x1="1743.2" y1="273.9" x2="1743.2" y2="270.9"/>
<line x1="1765.5" y1="559.4" x2="1765.5" y2="562.4"/>
<line x1="1765.5" y1="273.9" x2="1765.5" y2="270.9"/>
<line x1="1810" y1="559.4" x2="1810" y2="562.4"/>
<line x1="1810" y1="273.9" x2="1810" y2="270.9"/>
<line x1="1832.2" y1="559.4" x2="1832.2" y2="562.4"/>
<line x1="1832.2" y1="273.9" x2="1832.2" y2="270.9"/>
<line x1="1876.8" y1="559.4" x2="1876.8" y2="562.4"/>
<line x1="1876.8" y1="273.9" x2="1876.8" y2="270.9"/>
<line x1="1899" y1="559.4" x2="1899" y2="562.4"/>
<line x1="1899" y1="273.9" x2="1899" y2="270.9"/>
<line x1="1943.5" y1="559.4" x2="1943.5" y2="562.4"/>
<line x1="1943.5" y1="273.9" x2="1943.5" y2="270.9"/>
<line x1="1965.8" y1="559.4" x2="1965.8" y2="562.4"/>
<line x1="1965.8" y1="273.9" x2="1965.8" y2="270.9"/>
<line x1="1564" y1="558.6" x2="1561" y2="558.6"/>
<line x1="1966.6" y1="558.6" x2="1969.6" y2="558.6"/>
<line x1="1564" y1="534" x2="1561" y2="534"/>
<line x1="1966.6" y1="534" x2="1969.6" y2="534"/>
<line x1="1564" y1="484" x2="1561" y2="484"/>
<line x1="1966.6" y1="484" x2="1969.6" y2="484"/>
<line x1="1564" y1="458.7" x2="1561" y2="458.7"/>
<line x1="1966.6" y1="458.7" x2="1969.6" y2="458.7"/>
<line x1="1564" y1="407.3" x2="1561" y2="407.3"/>
<line x1="1966.6" y1="407.3" x2="1969.6" y2="407.3"/>
<line x1="1564" y1="381.3" x2="1561" y2="381.3"/>
<line x1="1966.6" y1="381.3" x2="1969.6" y2="381.3"/>
<line x1="1564" y1="328.2" x2="1561" y2="328.2"/>
<line x1="1966.6" y1="328.2" x2="1969.6" y2="328.2"/>
<line x1="1564" y1="301.2" x2="1561" y2="301.2"/>
<line x1="1966.6" y1="301.2" x2="1969.6" y2="301.2"/>
</g>
<g font-size="22.2" text-anchor="end">
<text x="1548.8" y="519.5">27°N</text>
<text x="1548.8" y="443.6">30°N</text>
<text x="1548.8" y="365.3">33°N</text>
<text x="1548.8" y="284.3">36°N</text>
</g>
<g font-size="22.2" text-anchor="middle">
<text transform="translate(1585.5,604) rotate(-45)" dy="0.36em">81°W</text>
<text transform="translate(1652.2,604) rotate(-45)" dy="0.36em">78°W</text>
<text transform="translate(1719,604) rotate(-45)" dy="0.36em">75°W</text>
<text transform="translate(1785.8,604) rotate(-45)" dy="0.36em">72°W</text>
<text transform="translate(1852.5,604) rotate(-45)" dy="0.36em">69°W</text>
<text transform="translate(1919.2,604) rotate(-45)" dy="0.36em">66°W</text>
</g>
</g>
<g id="legend">
<rect x="1634.9" y="636.2" width="261.3" height="179" rx="4" ry="4" fill="#ffffff" fill-opacity="0.8" stroke="#cccccc" stroke-width="1.67"/>
<line x1="1644.3" y1="655.5" x2="1688.7" y2="655.5" stroke="#0000ff" stroke-width="2.8" stroke-linecap="square"/>
<circle cx="1666.5" cy="655.5" r="6.2" fill="#0000ff"/>
<text x="1707.6" y="663.6" font-size="22.35">sp071</text>
<line x1="1644.3" y1="690.4" x2="1688.7" y2="690.4" stroke="#ff0000" stroke-width="2.8" stroke-linecap="square"/>
<circle cx="1666.5" cy="690.4" r="6.2" fill="#ff0000"/>
<text x="1707.6" y="698.5" font-size="22.35">RTOFS</text>
<line x1="1644.3" y1="724.6" x2="1688.7" y2="724.6" stroke="#ffa500" stroke-width="2.8" stroke-linecap="square"/>
<circle cx="1666.5" cy="724.6" r="6.2" fill="#ffa500"/>
<text x="1707.6" y="732.7" font-size="22.35">RTOFS (Parallel)</text>
<line x1="1644.3" y1="758.5" x2="1688.7" y2="758.5" stroke="#008000" stroke-width="2.8" stroke-linecap="square"/>
<circle cx="1666.5" cy="758.5" r="6.2" fill="#008000"/>
<text x="1707.6" y="766.6" font-size="22.35">ESPC</text>
<line x1="1644.3" y1="793.2" x2="1688.7" y2="793.2" stroke="#ff00ff" stroke-width="2.8" stroke-linecap="square"/>
<circle cx="1666.5" cy="793.2" r="6.2" fill="#ff00ff"/>
<text x="1707.6" y="801.3" font-size="22.35">CMEMS</text>
</g>
</svg>
</body></html>
